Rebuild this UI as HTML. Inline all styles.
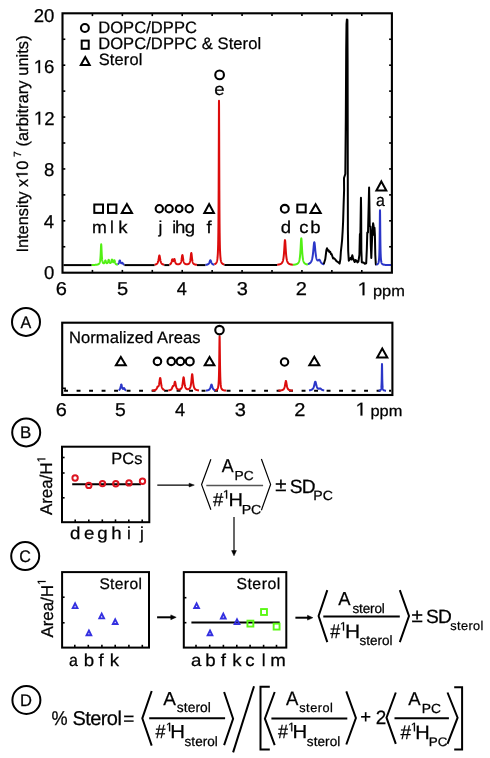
<!DOCTYPE html>
<html><head><meta charset="utf-8"><style>
html,body{margin:0;padding:0;background:#fff;}
svg{display:block;will-change:transform;}
text{font-family:"Liberation Sans",sans-serif;text-rendering:geometricPrecision;stroke-width:0.25px;paint-order:stroke;}
</style></head><body>
<svg width="490" height="758" viewBox="0 0 490 758">
<rect width="490" height="758" fill="#fff"/>
<polyline points="63.50,265.10 91.70,265.10" fill="none" stroke="#000" stroke-width="2.0" stroke-linejoin="round"/>
<polyline points="91.70,265.00 91.80,265.00 91.90,264.99 92.00,264.99 92.10,264.99 92.20,264.99 92.30,264.99 92.40,264.98 92.50,264.98 92.60,264.98 92.70,264.98 92.80,264.97 92.90,264.97 93.00,264.97 93.10,264.97 93.20,264.96 93.30,264.96 93.40,264.96 93.50,264.95 93.60,264.95 93.70,264.95 93.80,264.94 93.90,264.94 94.00,264.94 94.10,264.93 94.20,264.93 94.30,264.92 94.40,264.92 94.50,264.91 94.60,264.91 94.70,264.90 94.80,264.90 94.90,264.89 95.00,264.89 95.10,264.88 95.20,264.87 95.30,264.87 95.40,264.86 95.50,264.85 95.60,264.85 95.70,264.84 95.80,264.83 95.90,264.82 96.00,264.81 96.10,264.80 96.20,264.79 96.30,264.78 96.40,264.77 96.50,264.75 96.60,264.74 96.70,264.73 96.80,264.71 96.90,264.70 97.00,264.68 97.10,264.66 97.20,264.64 97.30,264.62 97.40,264.60 97.50,264.57 97.60,264.55 97.70,264.52 97.80,264.49 97.90,264.46 98.00,264.42 98.10,264.38 98.20,264.34 98.30,264.29 98.40,264.24 98.50,264.18 98.60,264.12 98.70,264.04 98.80,263.96 98.90,263.88 99.00,263.78 99.10,263.66 99.20,263.53 99.30,263.39 99.40,263.22 99.50,263.02 99.60,262.79 99.70,262.52 99.80,262.21 99.90,261.83 100.00,261.38 100.10,260.83 100.20,260.16 100.30,259.34 100.40,258.32 100.50,257.07 100.60,255.52 100.70,253.64 100.80,251.44 100.90,249.03 101.00,246.71 101.10,244.95 101.20,244.29 101.30,244.94 101.40,246.68 101.50,248.98 101.60,251.38 101.70,253.56 101.80,255.42 101.90,256.95 102.00,258.19 102.10,259.19 102.20,259.99 102.30,260.64 102.40,261.17 102.50,261.60 102.60,261.95 102.70,262.24 102.80,262.48 102.90,262.68 103.00,262.84 103.10,262.98 103.20,263.08 103.30,263.17 103.40,263.23 103.50,263.28 103.60,263.31 103.70,263.32 103.80,263.31 103.90,263.29 104.00,263.25 104.10,263.18 104.20,263.09 104.30,262.98 104.40,262.84 104.50,262.67 104.60,262.46 104.70,262.21 104.80,261.92 104.90,261.61 105.00,261.27 105.10,260.94 105.20,260.66 105.30,260.47 105.40,260.40 105.50,260.47 105.60,260.66 105.70,260.94 105.80,261.26 105.90,261.59 106.00,261.91 106.10,262.19 106.20,262.43 106.30,262.64 106.40,262.81 106.50,262.94 106.60,263.04 106.70,263.12 106.80,263.17 106.90,263.20 107.00,263.20 107.10,263.19 107.20,263.15 107.30,263.08 107.40,263.00 107.50,262.88 107.60,262.74 107.70,262.56 107.80,262.35 107.90,262.10 108.00,261.82 108.10,261.49 108.20,261.14 108.30,260.77 108.40,260.43 108.50,260.13 108.60,259.93 108.70,259.86 108.80,259.92 108.90,260.12 109.00,260.40 109.10,260.74 109.20,261.10 109.30,261.45 109.40,261.76 109.50,262.04 109.60,262.28 109.70,262.48 109.80,262.64 109.90,262.77 110.00,262.87 110.10,262.94 110.20,262.99 110.30,263.01 110.40,263.00 110.50,262.97 110.60,262.91 110.70,262.83 110.80,262.71 110.90,262.57 111.00,262.39 111.10,262.16 111.20,261.90 111.30,261.60 111.40,261.25 111.50,260.88 111.60,260.49 111.70,260.12 111.80,259.81 111.90,259.59 112.00,259.51 112.10,259.58 112.20,259.77 112.30,260.07 112.40,260.42 112.50,260.79 112.60,261.14 112.70,261.45 112.80,261.72 112.90,261.94 113.00,262.11 113.10,262.23 113.20,262.31 113.30,262.33 113.40,262.31 113.50,262.23 113.60,262.11 113.70,261.92 113.80,261.69 113.90,261.41 114.00,261.09 114.10,260.77 114.20,260.48 114.30,260.30 114.40,260.26 114.50,260.38 114.60,260.65 114.70,261.02 114.80,261.43 114.90,261.84 115.00,262.22 115.10,262.57 115.20,262.87 115.30,263.12 115.40,263.34 115.50,263.53 115.60,263.69 115.70,263.83 115.80,263.94 115.90,264.05 116.00,264.13 116.10,264.21 116.20,264.28 116.30,264.34 116.40,264.39 116.50,264.44 116.60,264.48 116.70,264.52 116.80,264.55 116.90,264.58 117.00,264.61 117.10,264.64 117.20,264.66 117.30,264.68 117.40,264.70 117.50,264.72 117.60,264.74 117.70,264.75 117.80,264.77" fill="none" stroke="#52f014" stroke-width="2.0" stroke-linejoin="round"/>
<polyline points="117.80,264.29 117.90,264.22 118.00,264.14 118.10,264.06 118.19,263.96 118.29,263.85 118.39,263.73 118.49,263.59 118.59,263.42 118.69,263.24 118.79,263.04 118.88,262.80 118.98,262.54 119.08,262.26 119.18,261.95 119.28,261.62 119.38,261.30 119.47,260.99 119.57,260.74 119.67,260.55 119.77,260.45 119.80,260.44 119.87,260.46 119.97,260.57 120.07,260.77 120.16,261.03 120.26,261.32 120.36,261.62 120.46,261.91 120.56,262.18 120.66,262.43 120.76,262.64 120.85,262.82 120.95,262.97 121.05,263.10 121.15,263.19 121.25,263.26 121.35,263.30 121.44,263.32 121.54,263.31 121.64,263.28 121.74,263.23 121.84,263.16 121.94,263.07 122.04,262.98 122.13,262.90 122.23,262.83 122.33,262.81 122.40,262.82 122.43,262.83 122.53,262.90 122.63,263.02 122.73,263.17 122.82,263.33 122.92,263.49 123.02,263.65 123.12,263.80 123.22,263.93 123.32,264.04 123.41,264.15 123.51,264.24 123.61,264.32 123.71,264.38 123.81,264.45 123.91,264.50 124.01,264.55 124.10,264.59 124.20,264.62 124.30,264.66 124.40,264.69" fill="none" stroke="#2b36c8" stroke-width="2.0" stroke-linejoin="round"/>
<polyline points="124.40,265.10 154.60,265.10" fill="none" stroke="#000" stroke-width="2.0" stroke-linejoin="round"/>
<polyline points="154.60,264.70 154.70,264.68 154.80,264.67 154.90,264.65 155.00,264.63 155.09,264.61 155.19,264.59 155.29,264.56 155.39,264.54 155.49,264.51 155.59,264.48 155.69,264.45 155.79,264.42 155.89,264.38 155.99,264.34 156.08,264.30 156.18,264.25 156.28,264.20 156.38,264.15 156.48,264.09 156.58,264.03 156.68,263.96 156.78,263.88 156.88,263.80 156.98,263.70 157.07,263.60 157.17,263.49 157.27,263.36 157.37,263.22 157.47,263.07 157.57,262.89 157.67,262.70 157.77,262.48 157.87,262.24 157.97,261.96 158.06,261.65 158.16,261.30 158.26,260.92 158.36,260.48 158.46,260.00 158.56,259.48 158.66,258.91 158.76,258.31 158.86,257.69 158.96,257.09 159.05,256.53 159.15,256.05 159.25,255.71 159.35,255.52 159.40,255.50 159.45,255.52 159.55,255.71 159.65,256.06 159.75,256.53 159.85,257.09 159.94,257.70 160.04,258.31 160.14,258.91 160.24,259.48 160.34,260.01 160.44,260.49 160.54,260.92 160.64,261.31 160.74,261.66 160.84,261.96 160.93,262.24 161.03,262.48 161.13,262.70 161.23,262.90 161.33,263.07 161.43,263.22 161.53,263.36 161.63,263.49 161.73,263.60 161.83,263.71 161.92,263.80 162.02,263.88 162.12,263.96 162.22,264.03 162.32,264.09 162.42,264.15 162.52,264.20 162.62,264.25 162.72,264.30 162.82,264.34 162.91,264.38 163.01,264.42 163.11,264.45 163.21,264.48 163.31,264.51 163.41,264.54 163.51,264.56 163.61,264.59 163.71,264.61 163.81,264.63 163.90,264.65 164.00,264.67 164.10,264.68 164.20,264.70 164.30,264.72" fill="none" stroke="#dc0c0c" stroke-width="2.0" stroke-linejoin="round"/>
<polyline points="164.30,265.10 169.40,265.10" fill="none" stroke="#000" stroke-width="2.0" stroke-linejoin="round"/>
<polyline points="169.40,264.55 169.50,264.52 169.60,264.49 169.70,264.45 169.80,264.41 169.90,264.37 170.00,264.32 170.10,264.27 170.20,264.21 170.30,264.14 170.40,264.07 170.50,263.98 170.60,263.89 170.70,263.78 170.80,263.66 170.90,263.52 171.00,263.36 171.10,263.18 171.20,262.97 171.30,262.73 171.40,262.45 171.50,262.13 171.60,261.77 171.70,261.37 171.80,260.95 171.90,260.51 172.00,260.08 172.10,259.72 172.20,259.45 172.30,259.32 172.40,259.33 172.50,259.48 172.60,259.72 172.70,260.01 172.80,260.32 172.90,260.59 173.00,260.83 173.10,261.00 173.20,261.11 173.30,261.16 173.40,261.14 173.50,261.05 173.60,260.90 173.70,260.68 173.80,260.40 173.90,260.08 174.00,259.74 174.10,259.40 174.20,259.12 174.30,258.95 174.40,258.92 174.50,259.05 174.60,259.32 174.70,259.70 174.80,260.15 174.90,260.62 175.00,261.07 175.10,261.49 175.20,261.86 175.30,262.20 175.40,262.49 175.50,262.74 175.60,262.96 175.70,263.15 175.80,263.31 175.90,263.45 176.00,263.57 176.10,263.68 176.20,263.77 176.30,263.85 176.40,263.92 176.50,263.98 176.60,264.03 176.70,264.08 176.80,264.12 176.90,264.16 177.00,264.19 177.10,264.21 177.20,264.24 177.30,264.26 177.40,264.27 177.50,264.28 177.60,264.29 177.70,264.30 177.80,264.31 177.90,264.31 178.00,264.31 178.10,264.31 178.20,264.30 178.30,264.29 178.40,264.28 178.50,264.27 178.60,264.26 178.70,264.24 178.80,264.22 178.90,264.20 179.00,264.17 179.10,264.14 179.20,264.11 179.30,264.07 179.40,264.03 179.50,263.98 179.60,263.93 179.70,263.88 179.80,263.81 179.90,263.74 180.00,263.66 180.10,263.57 180.20,263.47 180.30,263.35 180.40,263.23 180.50,263.08 180.60,262.92 180.70,262.73 180.80,262.52 180.90,262.29 181.00,262.01 181.10,261.70 181.20,261.35 181.30,260.94 181.40,260.48 181.50,259.97 181.60,259.39 181.70,258.75 181.80,258.06 181.90,257.35 182.00,256.65 182.10,256.01 182.20,255.49 182.30,255.14 182.40,255.02 182.50,255.14 182.60,255.48 182.70,256.01 182.80,256.65 182.90,257.35 183.00,258.06 183.10,258.75 183.20,259.38 183.30,259.96 183.40,260.48 183.50,260.94 183.60,261.34 183.70,261.70 183.80,262.01 183.90,262.28 184.00,262.52 184.10,262.73 184.20,262.91 184.30,263.07 184.40,263.22 184.50,263.34 184.60,263.46 184.70,263.56 184.80,263.65 184.90,263.73 185.00,263.80 185.10,263.86 185.20,263.92 185.30,263.97 185.40,264.02 185.50,264.06 185.60,264.10 185.70,264.13 185.80,264.16 185.90,264.19 186.00,264.21 186.10,264.23 186.20,264.24 186.30,264.26 186.40,264.27 186.50,264.28 186.60,264.29 186.70,264.29 186.80,264.30 186.90,264.30 187.00,264.30 187.10,264.29 187.20,264.29 187.30,264.28 187.40,264.27 187.50,264.26 187.60,264.24 187.70,264.22 187.80,264.20 187.90,264.18 188.00,264.15 188.10,264.12 188.20,264.09 188.30,264.05 188.40,264.00 188.50,263.95 188.60,263.90 188.70,263.84 188.80,263.77 188.90,263.69 189.00,263.60 189.10,263.50 189.20,263.38 189.30,263.25 189.40,263.11 189.50,262.94 189.60,262.75 189.70,262.53 189.80,262.27 189.90,261.98 190.00,261.64 190.10,261.25 190.20,260.79 190.30,260.27 190.40,259.66 190.50,258.96 190.60,258.16 190.70,257.28 190.80,256.34 190.90,255.37 191.00,254.45 191.10,253.68 191.20,253.16 191.30,252.98 191.40,253.17 191.50,253.69 191.60,254.47 191.70,255.39 191.80,256.36 191.90,257.31 192.00,258.20 192.10,259.00 192.20,259.70 192.30,260.32 192.40,260.85 192.50,261.31 192.60,261.71 192.70,262.05 192.80,262.35 192.90,262.61 193.00,262.84 193.10,263.03 193.20,263.21 193.30,263.36 193.40,263.50 193.50,263.62 193.60,263.72 193.70,263.82 193.80,263.91 193.90,263.99 194.00,264.06 194.10,264.12 194.20,264.18 194.30,264.23 194.40,264.28 194.50,264.32 194.60,264.37 194.70,264.40 194.80,264.44 194.90,264.47 195.00,264.50 195.10,264.53 195.20,264.55 195.30,264.58 195.40,264.60 195.50,264.62 195.60,264.64 195.70,264.66 195.80,264.67 195.90,264.69 196.00,264.71 196.10,264.72 196.20,264.73 196.30,264.75 196.40,264.76 196.50,264.77 196.60,264.78 196.70,264.79 196.80,264.80 196.90,264.81 197.00,264.82" fill="none" stroke="#dc0c0c" stroke-width="2.0" stroke-linejoin="round"/>
<polyline points="197.00,265.10 205.50,265.10" fill="none" stroke="#000" stroke-width="2.0" stroke-linejoin="round"/>
<polyline points="205.50,264.87 205.60,264.86 205.70,264.85 205.80,264.84 205.90,264.83 205.99,264.82 206.09,264.81 206.19,264.79 206.29,264.78 206.39,264.76 206.49,264.75 206.59,264.73 206.69,264.71 206.79,264.69 206.88,264.67 206.98,264.65 207.08,264.62 207.18,264.60 207.28,264.57 207.38,264.54 207.48,264.50 207.58,264.47 207.68,264.43 207.77,264.38 207.87,264.34 207.97,264.28 208.07,264.22 208.17,264.16 208.27,264.09 208.37,264.01 208.47,263.93 208.57,263.83 208.66,263.72 208.76,263.61 208.86,263.48 208.96,263.33 209.06,263.17 209.16,262.99 209.26,262.79 209.36,262.57 209.46,262.34 209.55,262.08 209.65,261.81 209.75,261.54 209.85,261.26 209.95,260.99 210.05,260.74 210.15,260.54 210.25,260.39 210.35,260.31 210.40,260.30 210.44,260.31 210.54,260.38 210.64,260.52 210.74,260.72 210.84,260.96 210.94,261.23 211.04,261.51 211.14,261.79 211.24,262.06 211.33,262.31 211.43,262.55 211.53,262.77 211.63,262.97 211.73,263.15 211.83,263.31 211.93,263.46 212.03,263.59 212.13,263.71 212.22,263.82 212.32,263.92 212.42,264.00 212.52,264.08 212.62,264.15 212.72,264.22 212.82,264.28 212.92,264.33 213.02,264.38 213.11,264.42 213.21,264.46 213.31,264.50 213.41,264.53 213.51,264.57 213.61,264.60 213.71,264.62 213.81,264.65 213.91,264.67 214.00,264.69 214.10,264.71 214.20,264.73 214.30,264.75 214.40,264.76" fill="none" stroke="#2b36c8" stroke-width="2.0" stroke-linejoin="round"/>
<polyline points="214.40,264.31 214.50,264.27 214.60,264.24 214.70,264.20 214.80,264.15 214.90,264.11 214.99,264.06 215.09,264.01 215.19,263.95 215.29,263.89 215.39,263.82 215.49,263.75 215.59,263.67 215.69,263.58 215.79,263.49 215.89,263.38 215.98,263.27 216.08,263.15 216.18,263.01 216.28,262.86 216.38,262.68 216.48,262.49 216.58,262.28 216.68,262.04 216.78,261.77 216.88,261.46 216.97,261.10 217.07,260.69 217.17,260.21 217.27,259.66 217.37,259.00 217.47,258.22 217.57,257.28 217.67,256.14 217.77,254.74 217.87,253.00 217.96,250.78 218.06,247.93 218.16,244.17 218.26,239.13 218.36,232.21 218.46,222.47 218.56,208.53 218.66,188.55 218.76,161.08 218.86,128.66 218.95,104.06 219.00,100.80 219.05,105.27 219.15,131.21 219.25,163.54 219.35,190.41 219.45,209.84 219.55,223.38 219.65,232.85 219.75,239.60 219.85,244.51 219.94,248.19 220.04,250.98 220.14,253.15 220.24,254.87 220.34,256.24 220.44,257.36 220.54,258.29 220.64,259.06 220.74,259.70 220.84,260.25 220.93,260.72 221.03,261.13 221.13,261.48 221.23,261.79 221.33,262.06 221.43,262.30 221.53,262.51 221.63,262.70 221.73,262.87 221.83,263.02 221.92,263.16 222.02,263.28 222.12,263.39 222.22,263.49 222.32,263.59 222.42,263.67 222.52,263.75 222.62,263.82 222.72,263.89 222.82,263.95 222.91,264.01 223.01,264.06 223.11,264.11 223.21,264.16 223.31,264.20 223.41,264.24 223.51,264.28 223.61,264.31 223.71,264.34 223.81,264.37 223.91,264.40 224.00,264.43 224.10,264.46 224.20,264.48 224.30,264.50 224.40,264.53" fill="none" stroke="#dc0c0c" stroke-width="2.0" stroke-linejoin="round"/>
<polyline points="224.40,265.10 277.10,265.10" fill="none" stroke="#000" stroke-width="2.0" stroke-linejoin="round"/>
<polyline points="277.10,264.74 277.20,264.73 277.30,264.73 277.40,264.72 277.50,264.71 277.60,264.69 277.70,264.68 277.80,264.67 277.90,264.66 278.00,264.65 278.10,264.63 278.20,264.62 278.30,264.61 278.40,264.59 278.50,264.58 278.60,264.56 278.70,264.54 278.80,264.53 278.90,264.51 279.00,264.49 279.10,264.47 279.20,264.45 279.30,264.42 279.40,264.40 279.50,264.38 279.60,264.35 279.70,264.32 279.80,264.29 279.90,264.26 280.00,264.23 280.10,264.19 280.20,264.16 280.30,264.12 280.40,264.08 280.50,264.03 280.60,263.99 280.70,263.94 280.80,263.88 280.90,263.83 281.00,263.77 281.10,263.70 281.20,263.63 281.30,263.55 281.40,263.47 281.50,263.38 281.60,263.29 281.70,263.19 281.80,263.08 281.90,262.95 282.00,262.82 282.10,262.68 282.20,262.52 282.30,262.35 282.40,262.16 282.50,261.95 282.60,261.71 282.70,261.46 282.80,261.17 282.90,260.85 283.00,260.50 283.10,260.10 283.20,259.65 283.30,259.15 283.40,258.58 283.50,257.94 283.60,257.22 283.70,256.40 283.80,255.47 283.90,254.42 284.00,253.24 284.10,251.92 284.20,250.47 284.30,248.90 284.40,247.23 284.50,245.52 284.60,243.86 284.70,242.37 284.80,241.16 284.90,240.37 285.00,240.10 285.10,240.37 285.20,241.16 285.30,242.37 285.40,243.86 285.50,245.52 285.60,247.23 285.70,248.90 285.80,250.47 285.90,251.92 286.00,253.24 286.10,254.42 286.20,255.47 286.30,256.40 286.40,257.22 286.50,257.94 286.60,258.58 286.70,259.15 286.80,259.65 286.90,260.10 287.00,260.50 287.10,260.85 287.20,261.17 287.30,261.46 287.40,261.71 287.50,261.95 287.60,262.16 287.70,262.35 287.80,262.52 287.90,262.68 288.00,262.82 288.10,262.95 288.20,263.08 288.30,263.19 288.40,263.29 288.50,263.38 288.60,263.47 288.70,263.55 288.80,263.63 288.90,263.70 289.00,263.77 289.10,263.83 289.20,263.88 289.30,263.94 289.40,263.99 289.50,264.03 289.60,264.08 289.70,264.12 289.80,264.16 289.90,264.19 290.00,264.23 290.10,264.26 290.20,264.29 290.30,264.32 290.40,264.35 290.50,264.38 290.60,264.40 290.70,264.42 290.80,264.45 290.90,264.47 291.00,264.49 291.10,264.51 291.20,264.53 291.30,264.54 291.40,264.56 291.50,264.58 291.60,264.59 291.70,264.61 291.80,264.62 291.90,264.63 292.00,264.65 292.10,264.66 292.20,264.67 292.30,264.68 292.40,264.69 292.50,264.71 292.60,264.72 292.70,264.73 292.80,264.73 292.90,264.74" fill="none" stroke="#dc0c0c" stroke-width="2.0" stroke-linejoin="round"/>
<polyline points="292.90,264.80 293.00,264.79 293.10,264.78 293.20,264.77 293.30,264.77 293.40,264.76 293.50,264.75 293.60,264.74 293.69,264.73 293.79,264.72 293.89,264.71 293.99,264.70 294.09,264.69 294.19,264.68 294.29,264.67 294.39,264.65 294.49,264.64 294.59,264.63 294.69,264.61 294.79,264.60 294.89,264.58 294.99,264.57 295.09,264.55 295.18,264.53 295.28,264.51 295.38,264.49 295.48,264.47 295.58,264.45 295.68,264.43 295.78,264.41 295.88,264.38 295.98,264.35 296.08,264.33 296.18,264.30 296.28,264.27 296.38,264.23 296.48,264.20 296.58,264.16 296.67,264.12 296.77,264.08 296.87,264.04 296.97,263.99 297.07,263.94 297.17,263.88 297.27,263.83 297.37,263.76 297.47,263.70 297.57,263.63 297.67,263.55 297.77,263.47 297.87,263.38 297.97,263.28 298.07,263.17 298.16,263.06 298.26,262.93 298.36,262.80 298.46,262.65 298.56,262.49 298.66,262.31 298.76,262.11 298.86,261.89 298.96,261.65 299.06,261.38 299.16,261.08 299.26,260.74 299.36,260.37 299.46,259.94 299.56,259.47 299.65,258.93 299.75,258.31 299.85,257.62 299.95,256.83 300.05,255.93 300.15,254.90 300.25,253.74 300.35,252.42 300.45,250.94 300.55,249.30 300.65,247.52 300.75,245.63 300.85,243.72 300.95,241.88 301.05,240.28 301.14,239.07 301.24,238.40 301.30,238.30 301.34,238.36 301.44,238.96 301.54,240.11 301.64,241.68 301.74,243.49 301.84,245.40 301.94,247.30 302.04,249.09 302.14,250.75 302.24,252.25 302.34,253.59 302.44,254.77 302.54,255.81 302.64,256.73 302.73,257.53 302.83,258.24 302.93,258.86 303.03,259.40 303.13,259.89 303.23,260.32 303.33,260.70 303.43,261.04 303.53,261.34 303.63,261.62 303.73,261.86 303.83,262.08 303.93,262.28 304.03,262.47 304.13,262.63 304.22,262.78 304.32,262.92 304.42,263.05 304.52,263.16 304.62,263.27 304.72,263.37 304.82,263.46 304.92,263.54 305.02,263.62 305.12,263.69 305.22,263.76 305.32,263.82 305.42,263.88 305.52,263.93 305.62,263.98 305.71,264.03 305.81,264.08 305.91,264.12 306.01,264.16 306.11,264.19 306.21,264.23 306.31,264.26 306.41,264.29 306.51,264.32 306.61,264.35 306.71,264.38 306.81,264.40 306.91,264.43 307.01,264.45 307.11,264.47 307.20,264.49 307.30,264.51 307.40,264.53 307.50,264.55 307.60,264.56 307.70,264.58 307.80,264.60 307.90,264.61" fill="none" stroke="#52f014" stroke-width="2.0" stroke-linejoin="round"/>
<polyline points="307.90,264.14 308.00,264.11 308.10,264.08 308.20,264.05 308.30,264.02 308.40,263.98 308.50,263.95 308.60,263.91 308.70,263.87 308.79,263.83 308.89,263.78 308.99,263.74 309.09,263.69 309.19,263.64 309.29,263.59 309.39,263.53 309.49,263.47 309.59,263.41 309.69,263.34 309.79,263.27 309.89,263.20 309.99,263.12 310.09,263.03 310.19,262.94 310.29,262.85 310.38,262.75 310.48,262.64 310.58,262.52 310.68,262.40 310.78,262.27 310.88,262.12 310.98,261.97 311.08,261.81 311.18,261.63 311.28,261.44 311.38,261.23 311.48,261.01 311.58,260.76 311.68,260.50 311.78,260.21 311.88,259.90 311.98,259.56 312.07,259.19 312.17,258.79 312.27,258.34 312.37,257.86 312.47,257.33 312.57,256.75 312.67,256.12 312.77,255.43 312.87,254.68 312.97,253.86 313.07,252.98 313.17,252.03 313.27,251.02 313.37,249.96 313.47,248.85 313.57,247.72 313.66,246.60 313.76,245.52 313.86,244.52 313.96,243.64 314.06,242.94 314.16,242.45 314.26,242.21 314.30,242.18 314.36,242.22 314.46,242.50 314.56,243.01 314.66,243.73 314.76,244.62 314.86,245.62 314.96,246.69 315.06,247.79 315.16,248.89 315.25,249.96 315.35,250.98 315.45,251.95 315.55,252.86 315.65,253.69 315.75,254.46 315.85,255.17 315.95,255.81 316.05,256.40 316.15,256.92 316.25,257.40 316.35,257.83 316.45,258.22 316.55,258.57 316.65,258.88 316.75,259.15 316.85,259.40 316.94,259.61 317.04,259.80 317.14,259.97 317.24,260.11 317.34,260.22 317.44,260.32 317.54,260.39 317.64,260.44 317.74,260.48 317.84,260.49 317.94,260.49 318.04,260.47 318.14,260.43 318.24,260.38 318.34,260.31 318.44,260.24 318.53,260.15 318.63,260.06 318.73,259.97 318.83,259.88 318.93,259.80 319.03,259.74 319.13,259.70 319.23,259.68 319.33,259.69 319.40,259.72 319.43,259.74 319.53,259.81 319.63,259.92 319.73,260.06 319.83,260.21 319.93,260.39 320.03,260.58 320.12,260.79 320.22,260.99 320.32,261.19 320.42,261.40 320.52,261.59 320.62,261.78 320.72,261.96 320.82,262.13 320.92,262.29 321.02,262.44 321.12,262.58 321.22,262.71 321.32,262.83 321.42,262.95 321.52,263.05 321.62,263.15 321.72,263.24 321.81,263.33 321.91,263.41 322.01,263.48 322.11,263.55 322.21,263.62 322.31,263.68 322.41,263.74 322.51,263.79 322.61,263.84 322.71,263.89 322.81,263.94 322.91,263.98 323.01,264.02 323.11,264.06 323.21,264.09 323.31,264.12 323.40,264.16 323.50,264.19 323.60,264.22 323.70,264.24 323.80,264.27 323.90,264.29 324.00,264.32 324.10,264.34 324.20,264.36" fill="none" stroke="#2b36c8" stroke-width="2.0" stroke-linejoin="round"/>
<polyline points="323.70,264.20 325.30,259.00 326.40,250.00 327.00,248.30 328.00,250.60 328.60,250.20 329.40,252.00 330.20,251.80 331.00,254.20 331.60,254.00 333.10,258.50 334.20,258.30 335.20,259.40 336.50,261.20 337.60,261.80 339.60,263.60 340.40,259.00 340.90,251.30 341.60,245.00 342.10,240.00 342.60,232.00 343.10,222.00 343.60,205.00 344.10,190.00 344.00,178.00 345.30,174.00 345.80,120.00 346.20,50.00 346.50,24.00 346.90,19.40 347.40,20.00 347.60,60.00 347.70,120.00 347.80,180.00 347.90,230.00 348.20,251.00 348.80,260.80 349.60,259.50 350.70,257.80 351.50,259.50 352.30,255.20 353.00,258.00 353.60,259.80 354.70,262.00 355.60,260.00 356.40,260.50 357.40,262.40 358.40,261.50 359.40,255.00 359.90,234.00 360.40,234.00 360.75,210.00 360.95,197.80 361.15,210.00 361.35,250.00 361.80,262.20 362.40,262.60 363.50,262.60 364.80,263.80 366.20,263.30 366.80,250.00 367.30,232.50 368.00,232.50 368.80,200.00 369.10,187.40 369.35,200.00 369.70,226.00 370.40,226.50 370.80,245.00 371.30,258.00 371.80,245.00 372.50,230.00 373.10,223.30 373.60,226.00 374.10,235.00 374.50,227.80 374.90,235.00 375.30,255.00 375.80,264.20 376.50,265.10" fill="none" stroke="#000" stroke-width="2.0" stroke-linejoin="round"/>
<polyline points="376.30,264.67 376.35,264.66 376.40,264.64 376.45,264.63 376.50,264.62 376.55,264.60 376.60,264.59 376.65,264.57 376.70,264.56 376.75,264.54 376.80,264.52 376.85,264.51 376.90,264.49 376.95,264.47 377.00,264.44 377.05,264.42 377.10,264.40 377.15,264.38 377.20,264.35 377.25,264.32 377.30,264.29 377.35,264.26 377.40,264.23 377.45,264.20 377.50,264.16 377.55,264.12 377.60,264.08 377.65,264.04 377.70,263.99 377.75,263.95 377.80,263.89 377.85,263.84 377.90,263.78 377.95,263.72 378.00,263.65 378.05,263.57 378.10,263.50 378.15,263.41 378.20,263.32 378.25,263.22 378.30,263.11 378.35,262.99 378.40,262.86 378.45,262.72 378.50,262.57 378.55,262.40 378.60,262.22 378.65,262.01 378.70,261.78 378.75,261.53 378.80,261.25 378.85,260.93 378.90,260.58 378.95,260.17 379.00,259.72 379.05,259.20 379.10,258.61 379.15,257.92 379.20,257.13 379.25,256.21 379.30,255.14 379.35,253.87 379.40,252.37 379.45,250.59 379.50,248.47 379.55,245.94 379.60,242.91 379.65,239.31 379.70,235.10 379.75,230.28 379.80,225.02 379.85,219.68 379.90,214.91 379.95,211.53 380.00,210.30 380.05,211.53 380.10,214.91 380.15,219.68 380.20,225.02 380.25,230.28 380.30,235.10 380.35,239.31 380.40,242.91 380.45,245.94 380.50,248.47 380.55,250.59 380.60,252.37 380.65,253.87 380.70,255.14 380.75,256.21 380.80,257.13 380.85,257.92 380.90,258.61 380.95,259.20 381.00,259.72 381.05,260.17 381.10,260.58 381.15,260.93 381.20,261.25 381.25,261.53 381.30,261.78 381.35,262.01 381.40,262.22 381.45,262.40 381.50,262.57 381.55,262.72 381.60,262.86 381.65,262.99 381.70,263.11 381.75,263.22 381.80,263.32 381.85,263.41 381.90,263.50 381.95,263.57 382.00,263.65 382.05,263.72 382.10,263.78 382.15,263.84 382.20,263.89 382.25,263.95 382.30,263.99 382.35,264.04 382.40,264.08 382.45,264.12 382.50,264.16 382.55,264.20 382.60,264.23 382.65,264.26 382.70,264.29 382.75,264.32 382.80,264.35 382.85,264.38 382.90,264.40 382.95,264.42 383.00,264.44 383.05,264.47 383.10,264.49 383.15,264.51 383.20,264.52 383.25,264.54 383.30,264.56 383.35,264.57 383.40,264.59 383.45,264.60 383.50,264.62 383.55,264.63 383.60,264.64 383.65,264.66 383.70,264.67 383.75,264.68 383.80,264.69 383.85,264.70 383.90,264.71 383.95,264.72 384.00,264.73 384.05,264.74 384.10,264.75 384.15,264.76 384.20,264.76 384.25,264.77 384.30,264.78 384.35,264.79 384.40,264.79 384.45,264.80 384.50,264.81 384.55,264.81 384.60,264.82 384.65,264.83 384.70,264.83 384.75,264.84 384.80,264.84 384.85,264.85 384.90,264.85 384.95,264.86 385.00,264.86 385.05,264.87 385.10,264.87 385.15,264.88 385.20,264.88 385.25,264.88 385.30,264.89 385.35,264.89 385.40,264.90 385.45,264.90 385.50,264.90 385.55,264.91 385.60,264.91 385.65,264.91 385.70,264.92 385.75,264.92 385.80,264.92 385.85,264.93 385.90,264.93 385.95,264.93 386.00,264.93 386.05,264.94 386.10,264.94 386.15,264.94 386.20,264.95 386.25,264.95 386.30,264.95 386.35,264.95 386.40,264.95 386.45,264.96 386.50,264.96 386.55,264.96 386.60,264.96 386.65,264.97 386.70,264.97 386.75,264.97 386.80,264.97 386.85,264.97 386.90,264.97 386.95,264.98 387.00,264.98 387.05,264.98 387.10,264.98 387.15,264.98 387.20,264.99 387.25,264.99 387.30,264.99 387.35,264.99 387.40,264.99 387.45,264.99 387.50,264.99 387.55,265.00 387.60,265.00 387.65,265.00 387.70,265.00 387.75,265.00 387.80,265.00 387.85,265.00 387.90,265.00 387.95,265.01 388.00,265.01 388.05,265.01 388.10,265.01 388.15,265.01 388.20,265.01 388.25,265.01 388.30,265.01 388.35,265.01 388.40,265.02 388.45,265.02 388.50,265.02 388.55,265.02 388.60,265.02 388.65,265.02 388.70,265.02 388.75,265.02 388.80,265.02 388.85,265.02 388.90,265.02 388.95,265.03 389.00,265.03 389.05,265.03 389.10,265.03 389.15,265.03 389.20,265.03 389.25,265.03 389.30,265.03 389.35,265.03 389.40,265.03 389.45,265.03 389.50,265.03 389.55,265.03 389.60,265.04 389.65,265.04 389.70,265.04 389.75,265.04 389.80,265.04 389.85,265.04 389.90,265.04 389.95,265.04 390.00,265.04 390.05,265.04 390.10,265.04 390.15,265.04 390.20,265.04 390.25,265.04 390.30,265.04 390.35,265.04 390.40,265.04 390.45,265.05 390.50,265.05 390.55,265.05 390.60,265.05 390.65,265.05 390.70,265.05 390.75,265.05 390.80,265.05 390.85,265.05 390.90,265.05 390.95,265.05 391.00,265.05" fill="none" stroke="#2b36c8" stroke-width="2.0" stroke-linejoin="round"/>
<rect x="62.50" y="13.30" width="329.40" height="259.40" fill="none" stroke="#000" stroke-width="2.1"/>
<line x1="92.43" y1="13.30" x2="92.43" y2="16.10" stroke="#000" stroke-width="1.6" stroke-linecap="butt"/>
<line x1="92.43" y1="272.70" x2="92.43" y2="269.90" stroke="#000" stroke-width="1.6" stroke-linecap="butt"/>
<line x1="122.36" y1="13.30" x2="122.36" y2="16.10" stroke="#000" stroke-width="1.6" stroke-linecap="butt"/>
<line x1="122.36" y1="272.70" x2="122.36" y2="269.90" stroke="#000" stroke-width="1.6" stroke-linecap="butt"/>
<line x1="152.29" y1="13.30" x2="152.29" y2="16.10" stroke="#000" stroke-width="1.6" stroke-linecap="butt"/>
<line x1="152.29" y1="272.70" x2="152.29" y2="269.90" stroke="#000" stroke-width="1.6" stroke-linecap="butt"/>
<line x1="182.22" y1="13.30" x2="182.22" y2="16.10" stroke="#000" stroke-width="1.6" stroke-linecap="butt"/>
<line x1="182.22" y1="272.70" x2="182.22" y2="269.90" stroke="#000" stroke-width="1.6" stroke-linecap="butt"/>
<line x1="212.15" y1="13.30" x2="212.15" y2="16.10" stroke="#000" stroke-width="1.6" stroke-linecap="butt"/>
<line x1="212.15" y1="272.70" x2="212.15" y2="269.90" stroke="#000" stroke-width="1.6" stroke-linecap="butt"/>
<line x1="242.08" y1="13.30" x2="242.08" y2="16.10" stroke="#000" stroke-width="1.6" stroke-linecap="butt"/>
<line x1="242.08" y1="272.70" x2="242.08" y2="269.90" stroke="#000" stroke-width="1.6" stroke-linecap="butt"/>
<line x1="272.01" y1="13.30" x2="272.01" y2="16.10" stroke="#000" stroke-width="1.6" stroke-linecap="butt"/>
<line x1="272.01" y1="272.70" x2="272.01" y2="269.90" stroke="#000" stroke-width="1.6" stroke-linecap="butt"/>
<line x1="301.94" y1="13.30" x2="301.94" y2="16.10" stroke="#000" stroke-width="1.6" stroke-linecap="butt"/>
<line x1="301.94" y1="272.70" x2="301.94" y2="269.90" stroke="#000" stroke-width="1.6" stroke-linecap="butt"/>
<line x1="331.87" y1="13.30" x2="331.87" y2="16.10" stroke="#000" stroke-width="1.6" stroke-linecap="butt"/>
<line x1="331.87" y1="272.70" x2="331.87" y2="269.90" stroke="#000" stroke-width="1.6" stroke-linecap="butt"/>
<line x1="361.80" y1="13.30" x2="361.80" y2="16.10" stroke="#000" stroke-width="1.6" stroke-linecap="butt"/>
<line x1="361.80" y1="272.70" x2="361.80" y2="269.90" stroke="#000" stroke-width="1.6" stroke-linecap="butt"/>
<line x1="62.50" y1="246.76" x2="65.30" y2="246.76" stroke="#000" stroke-width="1.6" stroke-linecap="butt"/>
<line x1="391.90" y1="246.76" x2="389.10" y2="246.76" stroke="#000" stroke-width="1.6" stroke-linecap="butt"/>
<line x1="62.50" y1="220.82" x2="65.30" y2="220.82" stroke="#000" stroke-width="1.6" stroke-linecap="butt"/>
<line x1="391.90" y1="220.82" x2="389.10" y2="220.82" stroke="#000" stroke-width="1.6" stroke-linecap="butt"/>
<line x1="62.50" y1="194.88" x2="65.30" y2="194.88" stroke="#000" stroke-width="1.6" stroke-linecap="butt"/>
<line x1="391.90" y1="194.88" x2="389.10" y2="194.88" stroke="#000" stroke-width="1.6" stroke-linecap="butt"/>
<line x1="62.50" y1="168.94" x2="65.30" y2="168.94" stroke="#000" stroke-width="1.6" stroke-linecap="butt"/>
<line x1="391.90" y1="168.94" x2="389.10" y2="168.94" stroke="#000" stroke-width="1.6" stroke-linecap="butt"/>
<line x1="62.50" y1="143.00" x2="65.30" y2="143.00" stroke="#000" stroke-width="1.6" stroke-linecap="butt"/>
<line x1="391.90" y1="143.00" x2="389.10" y2="143.00" stroke="#000" stroke-width="1.6" stroke-linecap="butt"/>
<line x1="62.50" y1="117.06" x2="65.30" y2="117.06" stroke="#000" stroke-width="1.6" stroke-linecap="butt"/>
<line x1="391.90" y1="117.06" x2="389.10" y2="117.06" stroke="#000" stroke-width="1.6" stroke-linecap="butt"/>
<line x1="62.50" y1="91.12" x2="65.30" y2="91.12" stroke="#000" stroke-width="1.6" stroke-linecap="butt"/>
<line x1="391.90" y1="91.12" x2="389.10" y2="91.12" stroke="#000" stroke-width="1.6" stroke-linecap="butt"/>
<line x1="62.50" y1="65.18" x2="65.30" y2="65.18" stroke="#000" stroke-width="1.6" stroke-linecap="butt"/>
<line x1="391.90" y1="65.18" x2="389.10" y2="65.18" stroke="#000" stroke-width="1.6" stroke-linecap="butt"/>
<line x1="62.50" y1="39.24" x2="65.30" y2="39.24" stroke="#000" stroke-width="1.6" stroke-linecap="butt"/>
<line x1="391.90" y1="39.24" x2="389.10" y2="39.24" stroke="#000" stroke-width="1.6" stroke-linecap="butt"/>
<text x="33.64" y="21.55" font-size="18.60" letter-spacing="0.000" fill="#000" stroke="#000" >20</text>
<text x="33.73" y="73.05" font-size="18.60" letter-spacing="0.000" fill="#000" stroke="#000" > 6</text>
<path transform="translate(33.73,73.05) scale(0.00908,-0.00908)" d="M515 0L515 1237L197 1010L197 1180L530 1409L696 1409L696 0Z" fill="#000" stroke="#000" stroke-width="27.5"/>
<text x="33.85" y="124.55" font-size="18.60" letter-spacing="0.000" fill="#000" stroke="#000" > 2</text>
<path transform="translate(33.85,124.55) scale(0.00908,-0.00908)" d="M515 0L515 1237L197 1010L197 1180L530 1409L696 1409L696 0Z" fill="#000" stroke="#000" stroke-width="27.5"/>
<text x="44.06" y="176.05" font-size="18.60" letter-spacing="0.000" fill="#000" stroke="#000" >8</text>
<text x="43.80" y="227.55" font-size="18.60" letter-spacing="0.000" fill="#000" stroke="#000" >4</text>
<text x="43.98" y="279.05" font-size="18.60" letter-spacing="0.000" fill="#000" stroke="#000" >0</text>
<text transform="translate(55.75,295.20) scale(1.0800,1)" font-size="18.60" letter-spacing="0.000" fill="#000" stroke="#000" >6</text>
<text transform="translate(117.03,295.20) scale(1.0800,1)" font-size="18.60" letter-spacing="0.000" fill="#000" stroke="#000" >5</text>
<text transform="translate(176.68,295.20) scale(0.9816,1)" font-size="18.60" letter-spacing="0.000" fill="#000" stroke="#000" >4</text>
<text transform="translate(236.64,295.20) scale(1.0773,1)" font-size="18.60" letter-spacing="0.000" fill="#000" stroke="#000" >3</text>
<text transform="translate(295.81,295.20) scale(1.0800,1)" font-size="18.60" letter-spacing="0.000" fill="#000" stroke="#000" >2</text>
<text transform="translate(357.57,295.20) scale(1.0800,1)" font-size="18.60" letter-spacing="0.000" fill="#000" stroke="#000" > </text>
<path transform="translate(357.57,295.20) scale(0.00981,-0.00908)" d="M515 0L515 1237L197 1010L197 1180L530 1409L696 1409L696 0Z" fill="#000" stroke="#000" stroke-width="27.5"/>
<text transform="translate(372.89,295.60) scale(1.0800,1)" font-size="15.20" letter-spacing="0.000" fill="#000" stroke="#000" >ppm</text>
<g transform="translate(27.6,252.6) rotate(-90)">
<text x="0" y="0" stroke="#000" font-size="16.4" letter-spacing="0">Intensity x 0<tspan font-size="10.4" dy="-6.6" dx="3.6">7</tspan><tspan dy="6.6" dx="0" letter-spacing="0.06"> (arbitrary units)</tspan></text>
<path transform="translate(73.83,0.00) scale(0.00801,-0.00801)" d="M515 0L515 1237L197 1010L197 1180L530 1409L696 1409L696 0Z" fill="#000" stroke="#000" stroke-width="31.2"/>
</g>
<circle cx="84.90" cy="28.00" r="3.95" fill="none" stroke="#000" stroke-width="2.1"/>
<rect x="81.70" y="40.60" width="7.00" height="8.20" fill="none" stroke="#000" stroke-width="2"/>
<polygon points="85.25,57.10 89.70,65.10 80.80,65.10" fill="none" stroke="#000" stroke-width="2" stroke-linejoin="miter"/>
<text x="98.14" y="32.60" font-size="16.55" letter-spacing="0.076" fill="#000" stroke="#000" >DOPC/DPPC</text>
<text x="98.14" y="49.20" font-size="16.55" letter-spacing="0.078" fill="#000" stroke="#000" >DOPC/DPPC &amp; Sterol</text>
<text x="98.76" y="65.20" font-size="16.40" letter-spacing="0.159" fill="#000" stroke="#000" >Sterol</text>
<rect x="94.30" y="204.50" width="8.70" height="8.40" fill="none" stroke="#000" stroke-width="2"/>
<rect x="108.00" y="204.50" width="8.40" height="8.40" fill="none" stroke="#000" stroke-width="2"/>
<polygon points="126.90,204.10 132.00,212.90 121.80,212.90" fill="none" stroke="#000" stroke-width="2" stroke-linejoin="miter"/>
<circle cx="159.30" cy="208.70" r="3.65" fill="none" stroke="#000" stroke-width="2.1"/>
<circle cx="169.10" cy="208.70" r="3.65" fill="none" stroke="#000" stroke-width="2.1"/>
<circle cx="179.15" cy="208.70" r="3.40" fill="none" stroke="#000" stroke-width="2.1"/>
<circle cx="189.20" cy="208.70" r="3.65" fill="none" stroke="#000" stroke-width="2.1"/>
<polygon points="209.10,204.10 213.90,212.90 204.30,212.90" fill="none" stroke="#000" stroke-width="2" stroke-linejoin="miter"/>
<circle cx="284.80" cy="208.80" r="3.95" fill="none" stroke="#000" stroke-width="2.1"/>
<rect x="297.30" y="204.60" width="8.40" height="7.80" fill="none" stroke="#000" stroke-width="2"/>
<polygon points="315.60,204.20 320.70,213.00 310.50,213.00" fill="none" stroke="#000" stroke-width="2" stroke-linejoin="miter"/>
<circle cx="219.60" cy="74.90" r="4.35" fill="none" stroke="#000" stroke-width="2.1"/>
<polygon points="381.35,181.40 386.30,190.40 376.40,190.40" fill="none" stroke="#000" stroke-width="2" stroke-linejoin="miter"/>
<text transform="translate(92.12,232.90) scale(1.0372,1)" font-size="17.20" letter-spacing="0.000" fill="#000" stroke="#000" >m</text>
<text x="110.04" y="232.90" font-size="17.20" letter-spacing="0.000" fill="#000" stroke="#000" >l</text>
<text transform="translate(118.37,232.90) scale(1.0800,1)" font-size="17.20" letter-spacing="0.000" fill="#000" stroke="#000" >k</text>
<text x="158.53" y="232.90" font-size="17.20" letter-spacing="0.000" fill="#000" stroke="#000" >j</text>
<text x="172.19" y="232.90" font-size="17.20" letter-spacing="0.000" fill="#000" stroke="#000" >i</text>
<text transform="translate(174.89,232.90) scale(1.0800,1)" font-size="17.20" letter-spacing="0.000" fill="#000" stroke="#000" >h</text>
<text transform="translate(184.79,232.90) scale(1.0800,1)" font-size="17.20" letter-spacing="0.000" fill="#000" stroke="#000" >g</text>
<text transform="translate(206.62,232.90) scale(1.0800,1)" font-size="17.20" letter-spacing="0.000" fill="#000" stroke="#000" >f</text>
<text transform="translate(280.79,232.90) scale(1.0800,1)" font-size="17.20" letter-spacing="0.000" fill="#000" stroke="#000" >d</text>
<text transform="translate(299.21,232.90) scale(1.0788,1)" font-size="17.20" letter-spacing="0.000" fill="#000" stroke="#000" >c</text>
<text transform="translate(310.23,232.90) scale(1.0800,1)" font-size="17.20" letter-spacing="0.000" fill="#000" stroke="#000" >b</text>
<text transform="translate(214.35,94.90) scale(1.0800,1)" font-size="17.20" letter-spacing="0.000" fill="#000" stroke="#000" >e</text>
<text transform="translate(376.02,206.00) scale(0.9281,1)" font-size="17.20" letter-spacing="0.000" fill="#000" stroke="#000" >a</text>
<line x1="64.1" y1="390.8" x2="391" y2="390.8" stroke="#000" stroke-width="2" stroke-dasharray="3.9 8.6"/>
<polyline points="63,388.2 65.2,388.2 65.2,390.8" fill="none" stroke="#000" stroke-width="1.4"/>
<polyline points="118.60,390.21 118.65,390.19 118.70,390.17 118.75,390.14 118.80,390.12 118.85,390.10 118.90,390.07 118.95,390.04 119.00,390.02 119.05,389.99 119.10,389.95 119.15,389.92 119.20,389.89 119.25,389.85 119.30,389.81 119.35,389.77 119.39,389.72 119.44,389.68 119.49,389.63 119.54,389.57 119.59,389.52 119.64,389.46 119.69,389.39 119.74,389.32 119.79,389.25 119.84,389.17 119.89,389.09 119.94,389.00 119.99,388.90 120.04,388.80 120.09,388.69 120.14,388.57 120.19,388.44 120.24,388.31 120.29,388.16 120.34,388.01 120.39,387.84 120.44,387.67 120.49,387.48 120.54,387.28 120.59,387.08 120.64,386.86 120.69,386.64 120.74,386.40 120.79,386.17 120.84,385.93 120.89,385.69 120.93,385.46 120.98,385.25 121.03,385.04 121.08,384.86 121.13,384.71 121.18,384.60 121.23,384.51 121.28,384.47 121.30,384.47 121.33,384.48 121.38,384.52 121.43,384.60 121.48,384.72 121.53,384.87 121.58,385.05 121.63,385.25 121.68,385.46 121.73,385.68 121.78,385.91 121.83,386.14 121.88,386.36 121.93,386.58 121.98,386.79 122.03,387.00 122.08,387.19 122.13,387.37 122.18,387.54 122.23,387.70 122.28,387.84 122.33,387.98 122.38,388.10 122.42,388.22 122.47,388.32 122.52,388.42 122.57,388.51 122.62,388.59 122.67,388.66 122.72,388.72 122.77,388.77 122.82,388.82 122.87,388.86 122.92,388.89 122.97,388.91 123.02,388.93 123.07,388.94 123.12,388.95 123.17,388.94 123.22,388.93 123.27,388.91 123.32,388.89 123.37,388.85 123.42,388.81 123.47,388.76 123.52,388.71 123.57,388.64 123.62,388.57 123.67,388.50 123.72,388.43 123.77,388.35 123.82,388.28 123.87,388.21 123.92,388.15 123.96,388.11 124.01,388.08 124.06,388.07 124.10,388.08 124.11,388.08 124.16,388.12 124.21,388.17 124.26,388.24 124.31,388.33 124.36,388.43 124.41,388.53 124.46,388.65 124.51,388.76 124.56,388.87 124.61,388.98 124.66,389.09 124.71,389.19 124.76,389.28 124.81,389.37 124.86,389.45 124.91,389.53 124.96,389.60 125.01,389.67 125.06,389.73 125.11,389.79 125.16,389.84 125.21,389.89 125.26,389.94 125.31,389.98 125.36,390.02 125.41,390.05 125.45,390.09 125.50,390.12 125.55,390.15 125.60,390.18 125.65,390.20 125.70,390.23 125.75,390.25 125.80,390.27 125.85,390.29 125.90,390.31 125.95,390.32 126.00,390.34 126.05,390.36 126.10,390.37 126.15,390.39 126.20,390.40" fill="none" stroke="#2b36c8" stroke-width="2.0" stroke-linejoin="round"/>
<polyline points="152.00,390.54 152.05,390.53 152.10,390.53 152.15,390.53 152.20,390.52 152.25,390.52 152.30,390.51 152.35,390.51 152.40,390.51 152.45,390.50 152.50,390.50 152.55,390.49 152.60,390.49 152.65,390.48 152.70,390.48 152.75,390.47 152.80,390.47 152.85,390.46 152.90,390.46 152.95,390.45 153.00,390.45 153.05,390.44 153.10,390.44 153.15,390.43 153.20,390.43 153.25,390.42 153.30,390.41 153.35,390.41 153.40,390.40 153.45,390.39 153.50,390.39 153.55,390.38 153.60,390.37 153.65,390.37 153.70,390.36 153.75,390.35 153.80,390.34 153.85,390.33 153.90,390.33 153.95,390.32 154.00,390.31 154.05,390.30 154.10,390.29 154.15,390.28 154.20,390.27 154.25,390.26 154.30,390.25 154.35,390.24 154.40,390.22 154.45,390.21 154.50,390.20 154.55,390.19 154.60,390.17 154.65,390.16 154.70,390.15 154.75,390.13 154.80,390.12 154.85,390.10 154.90,390.08 154.95,390.07 155.00,390.05 155.05,390.03 155.10,390.01 155.15,389.99 155.20,389.97 155.25,389.95 155.30,389.93 155.35,389.90 155.40,389.88 155.45,389.86 155.50,389.83 155.55,389.80 155.60,389.77 155.65,389.74 155.70,389.71 155.75,389.68 155.80,389.64 155.85,389.60 155.90,389.57 155.95,389.52 156.00,389.48 156.05,389.44 156.10,389.39 156.15,389.34 156.20,389.29 156.25,389.23 156.30,389.17 156.35,389.11 156.40,389.04 156.45,388.97 156.50,388.90 156.55,388.82 156.60,388.74 156.65,388.65 156.70,388.56 156.75,388.46 156.80,388.36 156.85,388.26 156.90,388.15 156.95,388.03 157.00,387.91 157.05,387.79 157.10,387.67 157.15,387.54 157.20,387.42 157.25,387.30 157.30,387.18 157.35,387.07 157.40,386.96 157.45,386.86 157.50,386.77 157.55,386.70 157.60,386.63 157.65,386.58 157.70,386.54 157.75,386.51 157.80,386.49 157.85,386.48 157.90,386.47 157.95,386.46 158.00,386.46 158.05,386.45 158.10,386.45 158.15,386.43 158.20,386.42 158.25,386.39 158.30,386.36 158.35,386.31 158.40,386.26 158.45,386.20 158.50,386.12 158.55,386.03 158.60,385.93 158.65,385.82 158.70,385.69 158.75,385.55 158.80,385.40 158.85,385.23 158.90,385.05 158.95,384.85 159.00,384.63 159.05,384.40 159.10,384.16 159.15,383.89 159.20,383.62 159.25,383.32 159.30,383.01 159.35,382.69 159.40,382.35 159.45,382.00 159.50,381.64 159.55,381.27 159.60,380.90 159.65,380.52 159.70,380.16 159.75,379.80 159.80,379.45 159.85,379.13 159.90,378.83 159.95,378.57 160.00,378.35 160.05,378.17 160.10,378.04 160.15,377.96 160.20,377.94 160.25,377.98 160.30,378.07 160.35,378.22 160.40,378.42 160.45,378.66 160.50,378.94 160.55,379.26 160.60,379.60 160.65,379.96 160.70,380.34 160.75,380.73 160.80,381.13 160.85,381.52 160.90,381.91 160.95,382.30 161.00,382.67 161.05,383.04 161.10,383.39 161.15,383.73 161.20,384.05 161.25,384.36 161.30,384.66 161.35,384.94 161.40,385.21 161.45,385.46 161.50,385.70 161.55,385.93 161.60,386.15 161.65,386.35 161.70,386.55 161.75,386.73 161.80,386.90 161.85,387.07 161.90,387.22 161.95,387.37 162.00,387.50 162.05,387.64 162.10,387.76 162.15,387.88 162.20,387.99 162.25,388.09 162.30,388.20 162.35,388.29 162.40,388.38 162.45,388.47 162.50,388.55 162.55,388.63 162.60,388.70 162.65,388.77 162.70,388.84 162.75,388.90 162.80,388.96 162.85,389.02 162.90,389.08 162.95,389.13 163.00,389.18 163.05,389.23 163.10,389.28 163.15,389.32 163.20,389.36 163.25,389.41 163.30,389.44 163.35,389.48 163.40,389.52 163.45,389.55 163.50,389.59 163.55,389.62 163.60,389.65 163.65,389.68 163.70,389.71 163.75,389.74 163.80,389.76 163.85,389.79 163.90,389.81 163.95,389.84 164.00,389.86 164.05,389.88 164.10,389.90 164.15,389.92 164.20,389.94 164.25,389.96 164.30,389.98 164.35,390.00 164.40,390.02 164.45,390.03 164.50,390.05 164.55,390.07 164.60,390.08" fill="none" stroke="#dc0c0c" stroke-width="2.0" stroke-linejoin="round"/>
<polyline points="168.20,390.43 168.25,390.43 168.30,390.42 168.35,390.42 168.40,390.41 168.45,390.41 168.50,390.40 168.55,390.40 168.60,390.39 168.65,390.38 168.70,390.38 168.75,390.37 168.80,390.36 168.85,390.36 168.90,390.35 168.95,390.34 169.00,390.33 169.05,390.32 169.10,390.32 169.15,390.31 169.20,390.30 169.25,390.29 169.30,390.28 169.35,390.27 169.40,390.26 169.45,390.25 169.50,390.24 169.55,390.23 169.60,390.22 169.65,390.21 169.70,390.19 169.75,390.18 169.80,390.17 169.85,390.16 169.90,390.14 169.95,390.13 170.00,390.11 170.05,390.10 170.10,390.08 170.15,390.07 170.20,390.05 170.25,390.03 170.30,390.01 170.35,389.99 170.40,389.97 170.45,389.95 170.50,389.93 170.55,389.91 170.60,389.88 170.65,389.86 170.70,389.83 170.75,389.80 170.80,389.77 170.85,389.74 170.90,389.71 170.95,389.68 171.00,389.64 171.05,389.61 171.10,389.57 171.15,389.53 171.20,389.48 171.25,389.44 171.29,389.39 171.34,389.34 171.39,389.29 171.44,389.23 171.49,389.17 171.54,389.11 171.59,389.04 171.64,388.97 171.69,388.89 171.74,388.81 171.79,388.73 171.84,388.64 171.89,388.55 171.94,388.45 171.99,388.34 172.04,388.23 172.09,388.11 172.14,387.99 172.19,387.86 172.24,387.73 172.29,387.59 172.34,387.45 172.39,387.30 172.44,387.16 172.49,387.01 172.54,386.87 172.59,386.73 172.64,386.60 172.69,386.47 172.74,386.36 172.79,386.26 172.84,386.17 172.89,386.10 172.90,386.09 172.94,386.05 172.99,386.01 173.04,385.98 173.09,385.96 173.14,385.96 173.19,385.96 173.24,385.96 173.29,385.97 173.34,385.98 173.39,385.98 173.44,385.98 173.49,385.97 173.54,385.95 173.59,385.93 173.64,385.89 173.69,385.84 173.74,385.77 173.79,385.69 173.84,385.60 173.89,385.49 173.94,385.37 173.99,385.24 174.04,385.09 174.09,384.92 174.14,384.74 174.19,384.55 174.24,384.35 174.29,384.13 174.34,383.91 174.39,383.68 174.44,383.44 174.49,383.20 174.54,382.97 174.59,382.74 174.64,382.52 174.69,382.32 174.74,382.14 174.79,381.99 174.84,381.86 174.89,381.77 174.94,381.72 174.99,381.71 175.00,381.71 175.04,381.73 175.09,381.80 175.14,381.91 175.19,382.05 175.24,382.23 175.29,382.43 175.34,382.66 175.39,382.91 175.44,383.17 175.49,383.44 175.54,383.72 175.59,384.00 175.64,384.28 175.69,384.55 175.74,384.82 175.79,385.08 175.84,385.34 175.89,385.58 175.94,385.81 175.99,386.03 176.04,386.24 176.09,386.44 176.14,386.63 176.19,386.81 176.24,386.98 176.29,387.14 176.34,387.29 176.39,387.43 176.44,387.56 176.49,387.69 176.54,387.81 176.59,387.92 176.64,388.02 176.69,388.12 176.74,388.21 176.79,388.30 176.84,388.38 176.89,388.46 176.94,388.53 176.99,388.60 177.04,388.67 177.09,388.73 177.14,388.79 177.19,388.84 177.24,388.89 177.29,388.94 177.34,388.98 177.39,389.03 177.44,389.07 177.48,389.11 177.53,389.14 177.58,389.18 177.63,389.21 177.68,389.24 177.73,389.27 177.78,389.29 177.83,389.32 177.88,389.34 177.93,389.36 177.98,389.38 178.03,389.40 178.08,389.42 178.13,389.44 178.18,389.45 178.23,389.47 178.28,389.48 178.33,389.49 178.38,389.50 178.43,389.51 178.48,389.52 178.53,389.53 178.58,389.54 178.63,389.54 178.68,389.55 178.73,389.55 178.78,389.56 178.83,389.56 178.88,389.56 178.93,389.56 178.98,389.56 179.03,389.56 179.08,389.56 179.13,389.56 179.18,389.56 179.23,389.55 179.28,389.55 179.33,389.54 179.38,389.54 179.43,389.53 179.48,389.52 179.53,389.51 179.58,389.50 179.63,389.49 179.68,389.48 179.73,389.47 179.78,389.46 179.83,389.44 179.88,389.43 179.93,389.41 179.98,389.39 180.03,389.37 180.08,389.35 180.13,389.33 180.18,389.31 180.23,389.29 180.28,389.26 180.33,389.24 180.38,389.21 180.43,389.18 180.48,389.15 180.53,389.12 180.58,389.08 180.63,389.05 180.68,389.01 180.73,388.97 180.78,388.93 180.83,388.89 180.88,388.84 180.93,388.79 180.98,388.74 181.03,388.69 181.08,388.63 181.13,388.57 181.18,388.51 181.23,388.44 181.28,388.37 181.33,388.29 181.38,388.22 181.43,388.13 181.48,388.04 181.53,387.95 181.58,387.85 181.63,387.75 181.68,387.64 181.73,387.52 181.78,387.40 181.83,387.27 181.88,387.13 181.93,386.98 181.98,386.83 182.03,386.66 182.08,386.49 182.13,386.30 182.18,386.10 182.23,385.89 182.28,385.67 182.33,385.43 182.38,385.18 182.43,384.92 182.48,384.63 182.53,384.34 182.58,384.02 182.63,383.69 182.68,383.35 182.73,382.99 182.78,382.61 182.83,382.22 182.88,381.81 182.93,381.40 182.98,380.97 183.03,380.55 183.08,380.12 183.13,379.70 183.18,379.29 183.23,378.90 183.28,378.53 183.33,378.20 183.38,377.91 183.43,377.66 183.48,377.47 183.53,377.34 183.57,377.28 183.60,377.27 183.62,377.28 183.67,377.34 183.72,377.47 183.77,377.66 183.82,377.90 183.87,378.19 183.92,378.52 183.97,378.88 184.02,379.27 184.07,379.68 184.12,380.10 184.17,380.53 184.22,380.95 184.27,381.38 184.32,381.79 184.37,382.19 184.42,382.58 184.47,382.96 184.52,383.32 184.57,383.66 184.62,383.99 184.67,384.30 184.72,384.60 184.77,384.88 184.82,385.14 184.87,385.39 184.92,385.62 184.97,385.85 185.02,386.05 185.07,386.25 185.12,386.43 185.17,386.61 185.22,386.77 185.27,386.93 185.32,387.07 185.37,387.21 185.42,387.34 185.47,387.46 185.52,387.57 185.57,387.68 185.62,387.78 185.67,387.88 185.72,387.97 185.77,388.05 185.82,388.13 185.87,388.21 185.92,388.28 185.97,388.35 186.02,388.41 186.07,388.48 186.12,388.53 186.17,388.59 186.22,388.64 186.27,388.69 186.32,388.73 186.37,388.78 186.42,388.82 186.47,388.86 186.52,388.89 186.57,388.93 186.62,388.96 186.67,388.99 186.72,389.02 186.77,389.05 186.82,389.07 186.87,389.09 186.92,389.12 186.97,389.14 187.02,389.16 187.07,389.17 187.12,389.19 187.17,389.21 187.22,389.22 187.27,389.23 187.32,389.24 187.37,389.26 187.42,389.26 187.47,389.27 187.52,389.28 187.57,389.29 187.62,389.29 187.67,389.29 187.72,389.30 187.77,389.30 187.82,389.30 187.87,389.30 187.92,389.30 187.97,389.30 188.02,389.29 188.07,389.29 188.12,389.28 188.17,389.28 188.22,389.27 188.27,389.26 188.32,389.25 188.37,389.24 188.42,389.23 188.47,389.21 188.52,389.20 188.57,389.18 188.62,389.16 188.67,389.14 188.72,389.12 188.77,389.10 188.82,389.08 188.87,389.06 188.92,389.03 188.97,389.00 189.02,388.97 189.07,388.94 189.12,388.91 189.17,388.87 189.22,388.83 189.27,388.80 189.32,388.75 189.37,388.71 189.42,388.66 189.47,388.61 189.52,388.56 189.57,388.50 189.62,388.45 189.67,388.38 189.72,388.32 189.76,388.25 189.81,388.17 189.86,388.10 189.91,388.01 189.96,387.93 190.01,387.83 190.06,387.74 190.11,387.63 190.16,387.52 190.21,387.41 190.26,387.28 190.31,387.15 190.36,387.01 190.41,386.86 190.46,386.70 190.51,386.54 190.56,386.36 190.61,386.17 190.66,385.96 190.71,385.75 190.76,385.52 190.81,385.27 190.86,385.01 190.91,384.73 190.96,384.44 191.01,384.12 191.06,383.79 191.11,383.43 191.16,383.05 191.21,382.65 191.26,382.23 191.31,381.79 191.36,381.32 191.41,380.83 191.46,380.32 191.51,379.79 191.56,379.25 191.61,378.70 191.66,378.15 191.71,377.59 191.76,377.05 191.81,376.52 191.86,376.02 191.91,375.56 191.96,375.15 192.01,374.80 192.06,374.53 192.11,374.33 192.16,374.21 192.20,374.19 192.21,374.19 192.26,374.26 192.31,374.41 192.36,374.65 192.41,374.97 192.46,375.35 192.51,375.79 192.56,376.27 192.61,376.79 192.66,377.33 192.71,377.88 192.76,378.44 192.81,379.00 192.86,379.55 192.91,380.09 192.96,380.62 193.01,381.12 193.06,381.61 193.11,382.07 193.16,382.51 193.21,382.92 193.26,383.32 193.31,383.69 193.36,384.04 193.41,384.37 193.46,384.69 193.51,384.98 193.56,385.25 193.61,385.51 193.66,385.76 193.71,385.99 193.76,386.20 193.81,386.40 193.86,386.59 193.91,386.77 193.96,386.94 194.01,387.10 194.06,387.25 194.11,387.39 194.16,387.53 194.21,387.66 194.26,387.78 194.31,387.89 194.36,388.00 194.41,388.10 194.46,388.19 194.51,388.29 194.56,388.37 194.61,388.45 194.66,388.53 194.71,388.61 194.76,388.68 194.81,388.75 194.86,388.81 194.91,388.87 194.96,388.93 195.01,388.99 195.06,389.04 195.11,389.09 195.16,389.14 195.21,389.19 195.26,389.23 195.31,389.28 195.36,389.32 195.41,389.36 195.46,389.40 195.51,389.43 195.56,389.47 195.61,389.50 195.66,389.53 195.71,389.56 195.76,389.59 195.81,389.62 195.86,389.65 195.91,389.68 195.95,389.70 196.00,389.73 196.05,389.75 196.10,389.78 196.15,389.80 196.20,389.82 196.25,389.84 196.30,389.86 196.35,389.88 196.40,389.90 196.45,389.92 196.50,389.94 196.55,389.95 196.60,389.97 196.65,389.99 196.70,390.00 196.75,390.02 196.80,390.03 196.85,390.05 196.90,390.06 196.95,390.07 197.00,390.09 197.05,390.10 197.10,390.11 197.15,390.13 197.20,390.14 197.25,390.15 197.30,390.16 197.35,390.17 197.40,390.18 197.45,390.19 197.50,390.20 197.55,390.21 197.60,390.22 197.65,390.23 197.70,390.24 197.75,390.25 197.80,390.26 197.85,390.26 197.90,390.27 197.95,390.28 198.00,390.29 198.05,390.30 198.10,390.30 198.15,390.31 198.20,390.32 198.25,390.33 198.30,390.33 198.35,390.34 198.40,390.34 198.45,390.35 198.50,390.36 198.55,390.36 198.60,390.37 198.65,390.38 198.70,390.38 198.75,390.39 198.80,390.39 198.85,390.40 198.90,390.40 198.95,390.41 199.00,390.41" fill="none" stroke="#dc0c0c" stroke-width="2.0" stroke-linejoin="round"/>
<polyline points="206.00,390.56 206.05,390.56 206.10,390.55 206.15,390.55 206.20,390.54 206.25,390.54 206.30,390.53 206.35,390.53 206.40,390.52 206.45,390.52 206.50,390.51 206.55,390.51 206.60,390.50 206.65,390.50 206.70,390.49 206.75,390.48 206.80,390.48 206.85,390.47 206.90,390.46 206.95,390.46 207.00,390.45 207.05,390.44 207.10,390.44 207.15,390.43 207.20,390.42 207.25,390.41 207.30,390.40 207.35,390.39 207.40,390.38 207.45,390.37 207.50,390.36 207.55,390.35 207.60,390.34 207.65,390.33 207.70,390.32 207.75,390.31 207.80,390.30 207.85,390.28 207.90,390.27 207.95,390.26 208.00,390.24 208.05,390.23 208.10,390.21 208.15,390.20 208.20,390.18 208.25,390.16 208.30,390.14 208.35,390.13 208.40,390.11 208.45,390.09 208.50,390.07 208.55,390.04 208.60,390.02 208.65,390.00 208.70,389.97 208.75,389.94 208.80,389.92 208.85,389.89 208.90,389.86 208.95,389.83 209.00,389.79 209.05,389.76 209.10,389.72 209.15,389.69 209.20,389.65 209.25,389.60 209.30,389.56 209.35,389.51 209.40,389.47 209.45,389.41 209.50,389.36 209.55,389.30 209.60,389.24 209.65,389.18 209.70,389.11 209.75,389.04 209.80,388.97 209.85,388.89 209.90,388.81 209.95,388.72 210.00,388.63 210.05,388.54 210.10,388.43 210.15,388.33 210.20,388.21 210.25,388.09 210.30,387.97 210.35,387.84 210.40,387.70 210.45,387.56 210.50,387.41 210.55,387.25 210.60,387.09 210.65,386.92 210.70,386.74 210.75,386.57 210.80,386.39 210.85,386.20 210.90,386.02 210.95,385.84 211.00,385.66 211.05,385.49 211.10,385.32 211.15,385.17 211.20,385.03 211.25,384.90 211.30,384.80 211.35,384.71 211.40,384.65 211.45,384.61 211.50,384.60 211.55,384.61 211.60,384.65 211.65,384.71 211.70,384.80 211.75,384.90 211.80,385.03 211.85,385.17 211.90,385.32 211.95,385.49 212.00,385.66 212.05,385.84 212.10,386.02 212.15,386.20 212.20,386.39 212.25,386.57 212.30,386.74 212.35,386.92 212.40,387.09 212.45,387.25 212.50,387.41 212.55,387.56 212.60,387.70 212.65,387.84 212.70,387.97 212.75,388.09 212.80,388.21 212.85,388.33 212.90,388.43 212.95,388.54 213.00,388.63 213.05,388.72 213.10,388.81 213.15,388.89 213.20,388.97 213.25,389.04 213.30,389.11 213.35,389.18 213.40,389.24 213.45,389.30 213.50,389.36 213.55,389.41 213.60,389.47 213.65,389.51 213.70,389.56 213.75,389.60 213.80,389.65 213.85,389.69 213.90,389.72 213.95,389.76 214.00,389.79 214.05,389.83 214.10,389.86 214.15,389.89 214.20,389.92 214.25,389.94 214.30,389.97 214.35,390.00 214.40,390.02 214.45,390.04 214.50,390.07 214.55,390.09 214.60,390.11 214.65,390.13 214.70,390.14 214.75,390.16 214.80,390.18 214.85,390.20 214.90,390.21 214.95,390.23 215.00,390.24 215.05,390.26 215.10,390.27 215.15,390.28 215.20,390.30" fill="none" stroke="#2b36c8" stroke-width="2.0" stroke-linejoin="round"/>
<polyline points="215.20,390.35 215.25,390.34 215.30,390.33 215.35,390.32 215.40,390.31 215.45,390.30 215.50,390.29 215.55,390.27 215.60,390.26 215.65,390.25 215.70,390.23 215.75,390.22 215.80,390.20 215.85,390.19 215.90,390.17 215.95,390.15 216.00,390.14 216.05,390.12 216.10,390.10 216.15,390.08 216.20,390.06 216.25,390.04 216.29,390.01 216.34,389.99 216.39,389.96 216.44,389.94 216.49,389.91 216.54,389.88 216.59,389.85 216.64,389.82 216.69,389.79 216.74,389.75 216.79,389.72 216.84,389.68 216.89,389.64 216.94,389.59 216.99,389.55 217.04,389.50 217.09,389.45 217.14,389.39 217.19,389.34 217.24,389.28 217.29,389.21 217.34,389.14 217.39,389.07 217.44,388.99 217.49,388.91 217.54,388.82 217.59,388.73 217.64,388.62 217.69,388.51 217.74,388.39 217.79,388.27 217.84,388.13 217.89,387.98 217.94,387.82 217.99,387.64 218.04,387.45 218.09,387.24 218.14,387.01 218.19,386.76 218.24,386.48 218.29,386.18 218.34,385.84 218.39,385.47 218.44,385.05 218.49,384.58 218.53,384.06 218.58,383.48 218.63,382.82 218.68,382.07 218.73,381.22 218.78,380.25 218.83,379.13 218.88,377.86 218.93,376.38 218.98,374.68 219.03,372.71 219.08,370.42 219.13,367.79 219.18,364.76 219.23,361.31 219.28,357.45 219.33,353.25 219.38,348.87 219.43,344.57 219.48,340.77 219.53,337.91 219.58,336.43 219.60,336.30 219.63,336.60 219.68,338.38 219.73,341.46 219.78,345.41 219.83,349.75 219.88,354.11 219.93,358.25 219.98,362.03 220.03,365.40 220.08,368.34 220.13,370.91 220.18,373.13 220.23,375.04 220.28,376.69 220.33,378.13 220.38,379.37 220.43,380.45 220.48,381.40 220.53,382.23 220.58,382.96 220.63,383.60 220.68,384.17 220.72,384.68 220.77,385.14 220.82,385.54 220.87,385.91 220.92,386.24 220.97,386.54 221.02,386.81 221.07,387.06 221.12,387.28 221.17,387.49 221.22,387.68 221.27,387.85 221.32,388.01 221.37,388.16 221.42,388.29 221.47,388.42 221.52,388.54 221.57,388.64 221.62,388.75 221.67,388.84 221.72,388.93 221.77,389.01 221.82,389.09 221.87,389.16 221.92,389.23 221.97,389.29 222.02,389.35 222.07,389.41 222.12,389.46 222.17,389.51 222.22,389.56 222.27,389.60 222.32,389.64 222.37,389.68 222.42,389.72 222.47,389.76 222.52,389.79 222.57,389.83 222.62,389.86 222.67,389.89 222.72,389.92 222.77,389.94 222.82,389.97 222.87,389.99 222.91,390.02 222.96,390.04 223.01,390.06 223.06,390.08 223.11,390.10 223.16,390.12 223.21,390.14 223.26,390.16 223.31,390.17 223.36,390.19 223.41,390.21 223.46,390.22 223.51,390.24 223.56,390.25 223.61,390.26 223.66,390.28 223.71,390.29 223.76,390.30 223.81,390.31 223.86,390.32 223.91,390.33 223.96,390.35 224.01,390.36 224.06,390.37 224.11,390.37 224.16,390.38 224.21,390.39 224.26,390.40 224.31,390.41 224.36,390.42 224.41,390.43 224.46,390.43 224.51,390.44 224.56,390.45 224.61,390.45 224.66,390.46 224.71,390.47 224.76,390.47 224.81,390.48 224.86,390.49 224.91,390.49 224.96,390.50 225.01,390.50 225.06,390.51 225.10,390.51 225.15,390.52 225.20,390.52 225.25,390.53 225.30,390.53 225.35,390.54 225.40,390.54 225.45,390.55 225.50,390.55 225.55,390.56 225.60,390.56 225.65,390.56 225.70,390.57 225.75,390.57 225.80,390.57 225.85,390.58 225.90,390.58 225.95,390.58 226.00,390.59 226.05,390.59 226.10,390.59 226.15,390.60 226.20,390.60" fill="none" stroke="#dc0c0c" stroke-width="2.0" stroke-linejoin="round"/>
<polyline points="278.40,390.63 278.45,390.63 278.50,390.62 278.55,390.62 278.60,390.62 278.65,390.62 278.70,390.61 278.75,390.61 278.80,390.61 278.85,390.61 278.90,390.60 278.95,390.60 279.00,390.60 279.05,390.60 279.10,390.59 279.15,390.59 279.20,390.59 279.25,390.58 279.30,390.58 279.35,390.58 279.40,390.57 279.45,390.57 279.50,390.57 279.55,390.56 279.60,390.56 279.65,390.56 279.70,390.55 279.75,390.55 279.80,390.54 279.85,390.54 279.89,390.54 279.94,390.53 279.99,390.53 280.04,390.52 280.09,390.52 280.14,390.51 280.19,390.51 280.24,390.50 280.29,390.50 280.34,390.49 280.39,390.49 280.44,390.48 280.49,390.48 280.54,390.47 280.59,390.46 280.64,390.46 280.69,390.45 280.74,390.45 280.79,390.44 280.84,390.43 280.89,390.42 280.94,390.42 280.99,390.41 281.04,390.40 281.09,390.39 281.14,390.39 281.19,390.38 281.24,390.37 281.29,390.36 281.34,390.35 281.39,390.34 281.44,390.33 281.49,390.32 281.54,390.31 281.59,390.30 281.64,390.29 281.69,390.28 281.74,390.27 281.79,390.25 281.84,390.24 281.89,390.23 281.94,390.21 281.99,390.20 282.04,390.18 282.09,390.17 282.14,390.15 282.19,390.14 282.24,390.12 282.29,390.10 282.34,390.08 282.39,390.07 282.44,390.05 282.49,390.03 282.54,390.00 282.59,389.98 282.64,389.96 282.69,389.94 282.73,389.91 282.78,389.88 282.83,389.86 282.88,389.83 282.93,389.80 282.98,389.77 283.03,389.74 283.08,389.70 283.13,389.67 283.18,389.63 283.23,389.59 283.28,389.55 283.33,389.51 283.38,389.46 283.43,389.42 283.48,389.37 283.53,389.32 283.58,389.26 283.63,389.21 283.68,389.14 283.73,389.08 283.78,389.01 283.83,388.94 283.88,388.87 283.93,388.79 283.98,388.71 284.03,388.62 284.08,388.53 284.13,388.43 284.18,388.32 284.23,388.21 284.28,388.10 284.33,387.97 284.38,387.84 284.43,387.70 284.48,387.55 284.53,387.40 284.58,387.23 284.63,387.06 284.68,386.87 284.73,386.67 284.78,386.46 284.83,386.24 284.88,386.01 284.93,385.76 284.98,385.51 285.03,385.24 285.08,384.96 285.13,384.67 285.18,384.37 285.23,384.06 285.28,383.75 285.33,383.43 285.38,383.11 285.43,382.80 285.48,382.50 285.53,382.21 285.58,381.94 285.62,381.69 285.67,381.47 285.72,381.29 285.77,381.15 285.82,381.06 285.87,381.01 285.90,381.00 285.92,381.01 285.97,381.05 286.02,381.15 286.07,381.29 286.12,381.47 286.17,381.68 286.22,381.92 286.27,382.20 286.32,382.48 286.37,382.79 286.42,383.10 286.47,383.42 286.52,383.73 286.57,384.05 286.62,384.36 286.67,384.66 286.72,384.95 286.77,385.23 286.82,385.50 286.87,385.75 286.92,386.00 286.97,386.23 287.02,386.45 287.07,386.66 287.12,386.86 287.17,387.05 287.22,387.22 287.27,387.39 287.32,387.55 287.37,387.70 287.42,387.84 287.47,387.97 287.52,388.09 287.57,388.21 287.62,388.32 287.67,388.42 287.72,388.52 287.77,388.62 287.82,388.70 287.87,388.79 287.92,388.87 287.97,388.94 288.02,389.01 288.07,389.08 288.12,389.14 288.17,389.20 288.22,389.26 288.27,389.31 288.32,389.37 288.37,389.42 288.42,389.46 288.47,389.51 288.51,389.55 288.56,389.59 288.61,389.63 288.66,389.67 288.71,389.70 288.76,389.74 288.81,389.77 288.86,389.80 288.91,389.83 288.96,389.86 289.01,389.88 289.06,389.91 289.11,389.93 289.16,389.96 289.21,389.98 289.26,390.00 289.31,390.02 289.36,390.05 289.41,390.06 289.46,390.08 289.51,390.10 289.56,390.12 289.61,390.14 289.66,390.15 289.71,390.17 289.76,390.18 289.81,390.20 289.86,390.21 289.91,390.23 289.96,390.24 290.01,390.25 290.06,390.26 290.11,390.28 290.16,390.29 290.21,390.30 290.26,390.31 290.31,390.32 290.36,390.33 290.41,390.34 290.46,390.35 290.51,390.36 290.56,390.37 290.61,390.38 290.66,390.39 290.71,390.39 290.76,390.40 290.81,390.41 290.86,390.42 290.91,390.42 290.96,390.43 291.01,390.44 291.06,390.44 291.11,390.45 291.16,390.46 291.21,390.46 291.26,390.47 291.31,390.48 291.36,390.48 291.40,390.49 291.45,390.49 291.50,390.50 291.55,390.50 291.60,390.51 291.65,390.51 291.70,390.52 291.75,390.52 291.80,390.53 291.85,390.53 291.90,390.54 291.95,390.54 292.00,390.54 292.05,390.55 292.10,390.55 292.15,390.56 292.20,390.56 292.25,390.56 292.30,390.57 292.35,390.57 292.40,390.57 292.45,390.58 292.50,390.58 292.55,390.58 292.60,390.59 292.65,390.59 292.70,390.59 292.75,390.60 292.80,390.60" fill="none" stroke="#dc0c0c" stroke-width="2.0" stroke-linejoin="round"/>
<polyline points="309.00,390.40 309.05,390.40 309.10,390.39 309.15,390.39 309.20,390.38 309.25,390.37 309.30,390.37 309.35,390.36 309.40,390.35 309.45,390.35 309.50,390.34 309.55,390.33 309.60,390.32 309.65,390.32 309.70,390.31 309.75,390.30 309.80,390.29 309.85,390.28 309.90,390.27 309.95,390.27 310.00,390.26 310.05,390.25 310.10,390.24 310.15,390.23 310.20,390.22 310.25,390.21 310.30,390.19 310.35,390.18 310.40,390.17 310.45,390.16 310.50,390.15 310.55,390.14 310.60,390.12 310.65,390.11 310.70,390.10 310.75,390.08 310.80,390.07 310.85,390.05 310.90,390.04 310.95,390.02 311.00,390.01 311.05,389.99 311.10,389.97 311.15,389.95 311.20,389.94 311.25,389.92 311.30,389.90 311.35,389.88 311.40,389.86 311.45,389.83 311.50,389.81 311.55,389.79 311.60,389.76 311.65,389.74 311.70,389.71 311.75,389.69 311.80,389.66 311.85,389.63 311.90,389.60 311.95,389.57 312.00,389.54 312.05,389.51 312.10,389.47 312.15,389.44 312.20,389.40 312.25,389.36 312.30,389.32 312.35,389.28 312.40,389.24 312.45,389.19 312.50,389.15 312.55,389.10 312.60,389.05 312.65,388.99 312.70,388.94 312.75,388.88 312.80,388.82 312.85,388.76 312.90,388.69 312.95,388.63 313.00,388.56 313.05,388.48 313.10,388.40 313.15,388.32 313.20,388.24 313.25,388.15 313.30,388.06 313.35,387.96 313.40,387.86 313.45,387.75 313.50,387.64 313.55,387.52 313.60,387.40 313.65,387.27 313.70,387.14 313.75,387.00 313.80,386.86 313.85,386.71 313.90,386.55 313.95,386.38 314.00,386.21 314.05,386.03 314.10,385.85 314.15,385.66 314.20,385.46 314.25,385.26 314.30,385.05 314.35,384.84 314.40,384.62 314.45,384.39 314.50,384.17 314.55,383.94 314.60,383.72 314.65,383.49 314.70,383.27 314.75,383.05 314.80,382.85 314.85,382.65 314.90,382.46 314.95,382.29 315.00,382.13 315.05,382.00 315.10,381.88 315.15,381.79 315.20,381.72 315.25,381.68 315.30,381.66 315.35,381.67 315.40,381.71 315.45,381.77 315.50,381.86 315.55,381.97 315.60,382.10 315.65,382.25 315.70,382.42 315.75,382.60 315.80,382.79 315.85,383.00 315.90,383.21 315.95,383.42 316.00,383.64 316.05,383.86 316.10,384.08 316.15,384.30 316.20,384.52 316.25,384.73 316.30,384.94 316.35,385.14 316.40,385.34 316.45,385.53 316.50,385.72 316.55,385.89 316.60,386.06 316.65,386.23 316.70,386.38 316.75,386.53 316.80,386.68 316.85,386.82 316.90,386.95 316.95,387.07 317.00,387.19 317.05,387.30 317.10,387.41 317.15,387.51 317.20,387.61 317.25,387.70 317.30,387.79 317.35,387.87 317.40,387.95 317.45,388.02 317.50,388.09 317.55,388.15 317.60,388.22 317.65,388.27 317.70,388.33 317.75,388.38 317.80,388.43 317.85,388.47 317.90,388.51 317.95,388.55 318.00,388.59 318.05,388.62 318.10,388.65 318.15,388.68 318.20,388.70 318.25,388.72 318.30,388.74 318.35,388.76 318.40,388.78 318.45,388.79 318.50,388.80 318.55,388.81 318.60,388.81 318.65,388.81 318.70,388.81 318.75,388.81 318.80,388.81 318.85,388.80 318.90,388.80 318.95,388.79 319.00,388.77 319.05,388.76 319.10,388.74 319.15,388.73 319.20,388.71 319.25,388.69 319.30,388.67 319.35,388.64 319.40,388.62 319.45,388.60 319.50,388.57 319.55,388.55 319.60,388.53 319.65,388.50 319.70,388.48 319.75,388.46 319.80,388.44 319.85,388.43 319.90,388.41 319.95,388.40 320.00,388.40 320.05,388.39 320.10,388.39 320.15,388.40 320.20,388.41 320.25,388.42 320.30,388.44 320.35,388.46 320.40,388.49 320.45,388.52 320.50,388.55 320.55,388.59 320.60,388.63 320.65,388.67 320.70,388.71 320.75,388.76 320.80,388.80 320.85,388.85 320.90,388.90 320.95,388.95 321.00,389.00 321.05,389.05 321.10,389.10 321.15,389.14 321.20,389.19 321.25,389.24 321.30,389.28 321.35,389.33 321.40,389.37 321.45,389.41 321.50,389.45 321.55,389.49 321.60,389.53 321.65,389.57 321.70,389.61 321.75,389.64 321.80,389.67 321.85,389.71 321.90,389.74 321.95,389.77 322.00,389.80 322.05,389.82 322.10,389.85 322.15,389.87 322.20,389.90 322.25,389.92 322.30,389.95 322.35,389.97 322.40,389.99 322.45,390.01 322.50,390.03 322.55,390.05 322.60,390.07 322.65,390.08 322.70,390.10 322.75,390.12 322.80,390.13 322.85,390.15 322.90,390.16 322.95,390.18 323.00,390.19 323.05,390.20 323.10,390.22 323.15,390.23 323.20,390.24 323.25,390.25 323.30,390.26 323.35,390.27 323.40,390.28 323.45,390.29 323.50,390.30 323.55,390.31 323.60,390.32 323.65,390.33 323.70,390.34 323.75,390.35 323.80,390.36 323.85,390.37 323.90,390.37 323.95,390.38 324.00,390.39 324.05,390.40 324.10,390.40 324.15,390.41 324.20,390.42" fill="none" stroke="#2b36c8" stroke-width="2.0" stroke-linejoin="round"/>
<polyline points="378.50,390.66 378.55,390.66 378.60,390.66 378.65,390.65 378.70,390.65 378.75,390.64 378.80,390.64 378.85,390.63 378.90,390.63 378.95,390.62 379.00,390.62 379.05,390.61 379.10,390.60 379.15,390.60 379.20,390.59 379.25,390.58 379.29,390.57 379.34,390.57 379.39,390.56 379.44,390.55 379.49,390.54 379.54,390.53 379.59,390.52 379.64,390.50 379.69,390.49 379.74,390.48 379.79,390.46 379.84,390.45 379.89,390.43 379.94,390.41 379.99,390.39 380.04,390.37 380.09,390.35 380.14,390.33 380.19,390.30 380.24,390.27 380.29,390.24 380.34,390.21 380.39,390.17 380.44,390.13 380.49,390.09 380.54,390.04 380.59,389.99 380.64,389.93 380.69,389.87 380.74,389.80 380.78,389.72 380.83,389.63 380.88,389.52 380.93,389.41 380.98,389.28 381.03,389.13 381.08,388.95 381.13,388.75 381.18,388.52 381.23,388.24 381.28,387.92 381.33,387.53 381.38,387.06 381.43,386.49 381.48,385.79 381.53,384.92 381.58,383.83 381.63,382.46 381.68,380.73 381.73,378.55 381.78,375.87 381.83,372.69 381.88,369.27 381.93,366.19 381.98,364.33 382.00,364.10 382.03,364.40 382.08,366.37 382.13,369.49 382.18,372.91 382.23,376.06 382.27,378.71 382.32,380.86 382.37,382.56 382.42,383.91 382.47,384.98 382.52,385.84 382.57,386.53 382.62,387.09 382.67,387.56 382.72,387.94 382.77,388.26 382.82,388.54 382.87,388.77 382.92,388.97 382.97,389.14 383.02,389.29 383.07,389.42 383.12,389.53 383.17,389.63 383.22,389.72 383.27,389.80 383.32,389.87 383.37,389.94 383.42,389.99 383.47,390.05 383.52,390.09 383.57,390.14 383.62,390.18 383.67,390.21 383.72,390.24 383.76,390.27 383.81,390.30 383.86,390.33 383.91,390.35 383.96,390.37 384.01,390.39 384.06,390.41 384.11,390.43 384.16,390.45 384.21,390.46 384.26,390.48 384.31,390.49 384.36,390.50 384.41,390.52 384.46,390.53 384.51,390.54 384.56,390.55 384.61,390.56 384.66,390.57 384.71,390.57 384.76,390.58 384.81,390.59 384.86,390.60 384.91,390.60 384.96,390.61 385.01,390.62 385.06,390.62 385.11,390.63 385.16,390.63 385.21,390.64 385.25,390.64 385.30,390.65 385.35,390.65 385.40,390.66 385.45,390.66 385.50,390.66 385.55,390.67 385.60,390.67 385.65,390.68 385.70,390.68 385.75,390.68 385.80,390.69 385.85,390.69 385.90,390.69 385.95,390.69 386.00,390.70" fill="none" stroke="#2b36c8" stroke-width="2.0" stroke-linejoin="round"/>
<rect x="62.20" y="322.70" width="330.20" height="72.30" fill="none" stroke="#000" stroke-width="2.1"/>
<text x="68.94" y="342.90" font-size="16.55" letter-spacing="0.077" fill="#000" stroke="#000" >Normalized Areas</text>
<polygon points="120.85,357.00 125.80,365.30 115.90,365.30" fill="none" stroke="#000" stroke-width="2" stroke-linejoin="miter"/>
<circle cx="157.45" cy="361.40" r="3.75" fill="none" stroke="#000" stroke-width="2.1"/>
<circle cx="171.25" cy="361.40" r="3.75" fill="none" stroke="#000" stroke-width="2.1"/>
<circle cx="180.40" cy="361.40" r="3.75" fill="none" stroke="#000" stroke-width="2.1"/>
<circle cx="189.80" cy="361.40" r="3.95" fill="none" stroke="#000" stroke-width="2.1"/>
<polygon points="209.55,357.00 214.40,365.30 204.70,365.30" fill="none" stroke="#000" stroke-width="2" stroke-linejoin="miter"/>
<circle cx="219.50" cy="330.10" r="4.25" fill="none" stroke="#000" stroke-width="2.1"/>
<circle cx="284.55" cy="362.00" r="3.70" fill="none" stroke="#000" stroke-width="2.1"/>
<polygon points="314.30,356.80 319.30,365.30 309.30,365.30" fill="none" stroke="#000" stroke-width="2" stroke-linejoin="miter"/>
<polygon points="382.25,348.50 387.30,357.40 377.20,357.40" fill="none" stroke="#000" stroke-width="2" stroke-linejoin="miter"/>
<text transform="translate(55.69,415.60) scale(1.0719,1)" font-size="18.60" letter-spacing="0.000" fill="#000" stroke="#000" >6</text>
<text transform="translate(115.02,415.60) scale(1.0432,1)" font-size="18.60" letter-spacing="0.000" fill="#000" stroke="#000" >5</text>
<text transform="translate(174.98,415.60) scale(0.9816,1)" font-size="18.60" letter-spacing="0.000" fill="#000" stroke="#000" >4</text>
<text transform="translate(234.72,415.60) scale(1.0800,1)" font-size="18.60" letter-spacing="0.000" fill="#000" stroke="#000" >3</text>
<text transform="translate(294.21,415.60) scale(1.0800,1)" font-size="18.60" letter-spacing="0.000" fill="#000" stroke="#000" >2</text>
<text transform="translate(355.52,415.60) scale(1.0800,1)" font-size="18.60" letter-spacing="0.000" fill="#000" stroke="#000" > </text>
<path transform="translate(355.52,415.60) scale(0.00981,-0.00908)" d="M515 0L515 1237L197 1010L197 1180L530 1409L696 1409L696 0Z" fill="#000" stroke="#000" stroke-width="27.5"/>
<text transform="translate(370.44,415.60) scale(1.0800,1)" font-size="15.20" letter-spacing="0.000" fill="#000" stroke="#000" >ppm</text>
<circle cx="26.00" cy="321.90" r="14.00" fill="none" stroke="#000" stroke-width="2.0"/>
<text transform="translate(20.47,327.60) scale(0.9605,1)" font-size="16.80" letter-spacing="0.000" fill="#000" stroke="#000" >A</text>
<circle cx="26.20" cy="432.40" r="14.00" fill="none" stroke="#000" stroke-width="2.0"/>
<text transform="translate(20.11,437.90) scale(1.0066,1)" font-size="16.80" letter-spacing="0.000" fill="#000" stroke="#000" >B</text>
<circle cx="25.20" cy="556.10" r="14.00" fill="none" stroke="#000" stroke-width="2.0"/>
<text transform="translate(19.28,561.90) scale(0.9587,1)" font-size="16.80" letter-spacing="0.000" fill="#000" stroke="#000" >C</text>
<circle cx="26.40" cy="700.00" r="14.00" fill="none" stroke="#000" stroke-width="2.0"/>
<text transform="translate(19.94,705.70) scale(0.9849,1)" font-size="16.80" letter-spacing="0.000" fill="#000" stroke="#000" >D</text>
<rect x="62.00" y="446.70" width="87.30" height="75.50" fill="none" stroke="#000" stroke-width="2.0"/>
<line x1="62.00" y1="457.50" x2="64.60" y2="457.50" stroke="#000" stroke-width="1.6" stroke-linecap="butt"/>
<line x1="62.00" y1="473.00" x2="64.60" y2="473.00" stroke="#000" stroke-width="1.6" stroke-linecap="butt"/>
<line x1="62.00" y1="497.80" x2="64.60" y2="497.80" stroke="#000" stroke-width="1.6" stroke-linecap="butt"/>
<line x1="75.20" y1="522.20" x2="75.20" y2="519.40" stroke="#000" stroke-width="1.6" stroke-linecap="butt"/>
<line x1="88.80" y1="522.20" x2="88.80" y2="519.40" stroke="#000" stroke-width="1.6" stroke-linecap="butt"/>
<line x1="102.30" y1="522.20" x2="102.30" y2="519.40" stroke="#000" stroke-width="1.6" stroke-linecap="butt"/>
<line x1="115.50" y1="522.20" x2="115.50" y2="519.40" stroke="#000" stroke-width="1.6" stroke-linecap="butt"/>
<line x1="128.80" y1="522.20" x2="128.80" y2="519.40" stroke="#000" stroke-width="1.6" stroke-linecap="butt"/>
<line x1="142.20" y1="522.20" x2="142.20" y2="519.40" stroke="#000" stroke-width="1.6" stroke-linecap="butt"/>
<line x1="72.20" y1="484.20" x2="141.00" y2="484.20" stroke="#000" stroke-width="2.0" stroke-linecap="butt"/>
<circle cx="75.10" cy="478.00" r="2.70" fill="none" stroke="#dc1420" stroke-width="1.95"/>
<circle cx="88.80" cy="485.40" r="2.70" fill="none" stroke="#dc1420" stroke-width="1.95"/>
<circle cx="102.50" cy="483.60" r="2.70" fill="none" stroke="#dc1420" stroke-width="1.95"/>
<circle cx="115.80" cy="483.80" r="2.70" fill="none" stroke="#dc1420" stroke-width="1.95"/>
<circle cx="129.00" cy="482.90" r="2.70" fill="none" stroke="#dc1420" stroke-width="1.95"/>
<circle cx="142.50" cy="481.20" r="2.70" fill="none" stroke="#dc1420" stroke-width="1.95"/>
<text x="111.15" y="463.90" font-size="16.40" letter-spacing="0.175" fill="#000" stroke="#000" >PCs</text>
<text transform="translate(70.01,539.00) scale(1.0800,1)" font-size="17.30" letter-spacing="0.000" fill="#000" stroke="#000" >d</text>
<text transform="translate(83.92,539.00) scale(1.0800,1)" font-size="17.30" letter-spacing="0.000" fill="#000" stroke="#000" >e</text>
<text transform="translate(97.16,539.00) scale(1.0800,1)" font-size="17.30" letter-spacing="0.000" fill="#000" stroke="#000" >g</text>
<text transform="translate(111.16,539.00) scale(1.0800,1)" font-size="17.30" letter-spacing="0.000" fill="#000" stroke="#000" >h</text>
<text x="126.93" y="539.00" font-size="17.30" letter-spacing="0.000" fill="#000" stroke="#000" >i</text>
<text x="140.02" y="539.00" font-size="17.30" letter-spacing="0.000" fill="#000" stroke="#000" >j</text>
<g transform="translate(52.4,514.9) rotate(-90)">
<text x="0" y="0" stroke="#000" font-size="17" letter-spacing="-0.12">Area/H</text>
<path transform="translate(52.49,-7.10) scale(0.00562,-0.00562)" d="M515 0L515 1237L197 1010L197 1180L530 1409L696 1409L696 0Z" fill="#000" stroke="#000" stroke-width="44.5"/>
</g>
<line x1="157.30" y1="485.10" x2="189.60" y2="485.10" stroke="#000" stroke-width="1.2" stroke-linecap="butt"/>
<polygon points="194.30,485.10 189.10,483.20 189.10,487.00" fill="#000" stroke="#000" stroke-width="0.5" stroke-linejoin="round"/>
<polyline points="210.90,459.30 201.60,484.60 210.90,509.80" fill="none" stroke="#000" stroke-width="1.2" stroke-linejoin="miter"/>
<polyline points="261.40,459.00 270.60,484.40 261.40,510.20" fill="none" stroke="#000" stroke-width="1.2" stroke-linejoin="miter"/>
<line x1="206.30" y1="485.50" x2="263.10" y2="485.50" stroke="#555" stroke-width="1.5" stroke-linecap="butt"/>
<text transform="translate(221.67,472.10) scale(0.9514,1)" font-size="18.71" letter-spacing="0.000" fill="#000" stroke="#000" >A</text>
<text transform="translate(234.47,479.60) scale(1.0532,1)" font-size="13.09" letter-spacing="0.000" fill="#000" stroke="#000" >PC</text>
<text transform="translate(213.02,506.00) scale(0.9794,1)" font-size="18.86" letter-spacing="0.000" fill="#000" stroke="#000" >#</text>
<text x="222.97" y="498.60" font-size="12.30" letter-spacing="0.000" fill="#000" stroke="#000" > </text>
<path transform="translate(222.97,498.60) scale(0.00601,-0.00601)" d="M515 0L515 1237L197 1010L197 1180L530 1409L696 1409L696 0Z" fill="#000" stroke="#000" stroke-width="41.6"/>
<text transform="translate(228.56,506.00) scale(1.0800,1)" font-size="18.56" letter-spacing="0.000" fill="#000" stroke="#000" >H</text>
<text transform="translate(241.64,513.70) scale(1.0833,1)" font-size="13.09" letter-spacing="0.000" fill="#000" stroke="#000" >PC</text>
<text transform="translate(275.36,491.00) scale(1.0800,1)" font-size="19.00" letter-spacing="0.000" fill="#000" stroke="#000" >±</text>
<text x="289.73" y="492.60" font-size="19.14" letter-spacing="-0.799" fill="#000" stroke="#000" >SD</text>
<text transform="translate(313.24,499.90) scale(1.0541,1)" font-size="13.38" letter-spacing="0.000" fill="#000" stroke="#000" >PC</text>
<line x1="234.00" y1="517.10" x2="234.00" y2="551.10" stroke="#000" stroke-width="1.2" stroke-linecap="butt"/>
<polygon points="234.00,555.80 231.60,550.60 236.40,550.60" fill="#000" stroke="#000" stroke-width="0.5" stroke-linejoin="round"/>
<rect x="62.10" y="572.10" width="86.90" height="75.50" fill="none" stroke="#000" stroke-width="2.0"/>
<line x1="62.00" y1="597.20" x2="64.60" y2="597.20" stroke="#000" stroke-width="1.6" stroke-linecap="butt"/>
<line x1="62.00" y1="622.80" x2="64.60" y2="622.80" stroke="#000" stroke-width="1.6" stroke-linecap="butt"/>
<line x1="74.80" y1="647.60" x2="74.80" y2="644.80" stroke="#000" stroke-width="1.6" stroke-linecap="butt"/>
<line x1="88.30" y1="647.60" x2="88.30" y2="644.80" stroke="#000" stroke-width="1.6" stroke-linecap="butt"/>
<line x1="101.90" y1="647.60" x2="101.90" y2="644.80" stroke="#000" stroke-width="1.6" stroke-linecap="butt"/>
<line x1="115.20" y1="647.60" x2="115.20" y2="644.80" stroke="#000" stroke-width="1.6" stroke-linecap="butt"/>
<line x1="128.90" y1="647.60" x2="128.90" y2="644.80" stroke="#000" stroke-width="1.6" stroke-linecap="butt"/>
<line x1="142.30" y1="647.60" x2="142.30" y2="644.80" stroke="#000" stroke-width="1.6" stroke-linecap="butt"/>
<text x="99.39" y="589.40" font-size="15.54" letter-spacing="0.390" fill="#000" stroke="#000" >Sterol</text>
<polygon points="75.10,603.44 77.46,608.15 72.73,608.15" fill="none" stroke="#3430e0" stroke-width="1.9" stroke-linejoin="miter"/>
<polygon points="88.90,630.54 91.27,635.25 86.54,635.25" fill="none" stroke="#3430e0" stroke-width="1.9" stroke-linejoin="miter"/>
<polygon points="101.70,613.64 104.06,618.35 99.34,618.35" fill="none" stroke="#3430e0" stroke-width="1.9" stroke-linejoin="miter"/>
<polygon points="115.20,619.34 117.56,624.05 112.84,624.05" fill="none" stroke="#3430e0" stroke-width="1.9" stroke-linejoin="miter"/>
<text transform="translate(69.12,665.80) scale(0.9227,1)" font-size="17.30" letter-spacing="0.000" fill="#000" stroke="#000" >a</text>
<text transform="translate(83.69,665.80) scale(1.0800,1)" font-size="17.30" letter-spacing="0.000" fill="#000" stroke="#000" >b</text>
<text transform="translate(98.61,665.80) scale(1.0800,1)" font-size="17.30" letter-spacing="0.000" fill="#000" stroke="#000" >f</text>
<text transform="translate(109.79,665.80) scale(1.0800,1)" font-size="17.30" letter-spacing="0.000" fill="#000" stroke="#000" >k</text>
<g transform="translate(52.7,637.4) rotate(-90)">
<text x="0" y="0" stroke="#000" font-size="17" letter-spacing="-0.12">Area/H</text>
<path transform="translate(52.49,-7.10) scale(0.00562,-0.00562)" d="M515 0L515 1237L197 1010L197 1180L530 1409L696 1409L696 0Z" fill="#000" stroke="#000" stroke-width="44.5"/>
</g>
<line x1="157.10" y1="617.30" x2="171.30" y2="617.30" stroke="#000" stroke-width="2.0" stroke-linecap="butt"/>
<polygon points="176.20,617.30 170.80,614.90 170.80,619.70" fill="#000" stroke="#000" stroke-width="0.5" stroke-linejoin="round"/>
<rect x="183.80" y="572.10" width="102.50" height="75.50" fill="none" stroke="#000" stroke-width="2.0"/>
<line x1="183.80" y1="597.70" x2="186.40" y2="597.70" stroke="#000" stroke-width="1.6" stroke-linecap="butt"/>
<line x1="183.80" y1="622.70" x2="186.40" y2="622.70" stroke="#000" stroke-width="1.6" stroke-linecap="butt"/>
<line x1="196.00" y1="647.60" x2="196.00" y2="644.80" stroke="#000" stroke-width="1.6" stroke-linecap="butt"/>
<line x1="209.70" y1="647.60" x2="209.70" y2="644.80" stroke="#000" stroke-width="1.6" stroke-linecap="butt"/>
<line x1="223.40" y1="647.60" x2="223.40" y2="644.80" stroke="#000" stroke-width="1.6" stroke-linecap="butt"/>
<line x1="236.80" y1="647.60" x2="236.80" y2="644.80" stroke="#000" stroke-width="1.6" stroke-linecap="butt"/>
<line x1="250.10" y1="647.60" x2="250.10" y2="644.80" stroke="#000" stroke-width="1.6" stroke-linecap="butt"/>
<line x1="263.60" y1="647.60" x2="263.60" y2="644.80" stroke="#000" stroke-width="1.6" stroke-linecap="butt"/>
<line x1="276.50" y1="647.60" x2="276.50" y2="644.80" stroke="#000" stroke-width="1.6" stroke-linecap="butt"/>
<text x="236.38" y="589.40" font-size="15.83" letter-spacing="0.506" fill="#000" stroke="#000" >Sterol</text>
<line x1="191.40" y1="622.40" x2="279.70" y2="622.40" stroke="#000" stroke-width="2.0" stroke-linecap="butt"/>
<polygon points="196.60,603.34 198.96,608.05 194.24,608.05" fill="none" stroke="#3430e0" stroke-width="1.9" stroke-linejoin="miter"/>
<polygon points="210.00,630.54 212.36,635.25 207.64,635.25" fill="none" stroke="#3430e0" stroke-width="1.9" stroke-linejoin="miter"/>
<polygon points="223.30,613.74 225.66,618.45 220.94,618.45" fill="none" stroke="#3430e0" stroke-width="1.9" stroke-linejoin="miter"/>
<polygon points="237.00,619.44 239.36,624.15 234.64,624.15" fill="none" stroke="#3430e0" stroke-width="1.9" stroke-linejoin="miter"/>
<rect x="247.45" y="620.65" width="5.90" height="5.90" fill="none" stroke="#5af814" stroke-width="1.9"/>
<rect x="261.05" y="609.05" width="5.90" height="5.90" fill="none" stroke="#5af814" stroke-width="1.9"/>
<rect x="273.65" y="623.65" width="5.90" height="5.90" fill="none" stroke="#5af814" stroke-width="1.9"/>
<text transform="translate(191.11,665.80) scale(1.0800,1)" font-size="17.30" letter-spacing="0.000" fill="#000" stroke="#000" >a</text>
<text transform="translate(205.19,665.80) scale(1.0800,1)" font-size="17.30" letter-spacing="0.000" fill="#000" stroke="#000" >b</text>
<text transform="translate(220.71,665.80) scale(1.0800,1)" font-size="17.30" letter-spacing="0.000" fill="#000" stroke="#000" >f</text>
<text transform="translate(232.29,665.80) scale(1.0800,1)" font-size="17.30" letter-spacing="0.000" fill="#000" stroke="#000" >k</text>
<text transform="translate(245.33,665.80) scale(1.0800,1)" font-size="17.30" letter-spacing="0.000" fill="#000" stroke="#000" >c</text>
<text x="261.67" y="665.80" font-size="17.30" letter-spacing="0.000" fill="#000" stroke="#000" >l</text>
<text transform="translate(270.16,665.80) scale(1.0800,1)" font-size="17.30" letter-spacing="0.000" fill="#000" stroke="#000" >m</text>
<line x1="295.40" y1="617.70" x2="308.00" y2="617.70" stroke="#000" stroke-width="2.0" stroke-linecap="butt"/>
<polygon points="312.90,617.70 307.50,615.30 307.50,620.10" fill="#000" stroke="#000" stroke-width="0.5" stroke-linejoin="round"/>
<polyline points="327.30,590.10 318.60,616.00 327.30,642.10" fill="none" stroke="#000" stroke-width="2.0" stroke-linejoin="miter"/>
<polyline points="399.80,590.10 409.00,616.00 399.80,642.10" fill="none" stroke="#000" stroke-width="2.0" stroke-linejoin="miter"/>
<line x1="323.30" y1="616.60" x2="399.80" y2="616.60" stroke="#000" stroke-width="2.0" stroke-linecap="butt"/>
<text transform="translate(338.36,604.80) scale(0.9761,1)" font-size="18.85" letter-spacing="0.000" fill="#000" stroke="#000" >A</text>
<text x="352.52" y="612.60" font-size="13.52" letter-spacing="-0.158" fill="#000" stroke="#000" >sterol</text>
<text transform="translate(330.22,637.60) scale(0.9081,1)" font-size="19.73" letter-spacing="0.000" fill="#000" stroke="#000" >#</text>
<text x="339.87" y="630.60" font-size="12.30" letter-spacing="0.000" fill="#000" stroke="#000" > </text>
<path transform="translate(339.87,630.60) scale(0.00601,-0.00601)" d="M515 0L515 1237L197 1010L197 1180L530 1409L696 1409L696 0Z" fill="#000" stroke="#000" stroke-width="41.6"/>
<text transform="translate(344.97,637.60) scale(1.0800,1)" font-size="19.42" letter-spacing="0.000" fill="#000" stroke="#000" >H</text>
<text x="359.52" y="645.20" font-size="13.52" letter-spacing="0.002" fill="#000" stroke="#000" >sterol</text>
<text transform="translate(411.46,621.90) scale(1.0800,1)" font-size="19.00" letter-spacing="0.000" fill="#000" stroke="#000" >±</text>
<text x="426.03" y="622.90" font-size="19.14" letter-spacing="-0.799" fill="#000" stroke="#000" >SD</text>
<text x="450.15" y="630.40" font-size="12.70" letter-spacing="0.451" fill="#000" stroke="#000" >sterol</text>
<text transform="translate(51.45,724.90) scale(0.9098,1)" font-size="19.89" letter-spacing="0.000" fill="#000" stroke="#000" >%</text>
<text x="72.59" y="724.50" font-size="20.00" letter-spacing="-0.600" fill="#000" stroke="#000" >Sterol</text>
<text transform="translate(123.18,724.50) scale(0.9966,1)" font-size="19.00" letter-spacing="0.000" fill="#000" stroke="#000" >=</text>
<polyline points="151.70,691.00 142.30,718.30 151.70,745.60" fill="none" stroke="#000" stroke-width="2.0" stroke-linejoin="miter"/>
<line x1="149.20" y1="718.20" x2="225.10" y2="718.20" stroke="#000" stroke-width="2.0" stroke-linecap="butt"/>
<text transform="translate(163.26,704.60) scale(1.0081,1)" font-size="18.85" letter-spacing="0.000" fill="#000" stroke="#000" >A</text>
<text x="176.72" y="712.30" font-size="13.80" letter-spacing="0.092" fill="#000" stroke="#000" >sterol</text>
<text transform="translate(155.52,738.40) scale(0.9358,1)" font-size="19.15" letter-spacing="0.000" fill="#000" stroke="#000" >#</text>
<text x="165.97" y="731.30" font-size="12.30" letter-spacing="0.000" fill="#000" stroke="#000" > </text>
<path transform="translate(165.97,731.30) scale(0.00601,-0.00601)" d="M515 0L515 1237L197 1010L197 1180L530 1409L696 1409L696 0Z" fill="#000" stroke="#000" stroke-width="41.6"/>
<text transform="translate(170.29,738.40) scale(1.0800,1)" font-size="18.85" letter-spacing="0.000" fill="#000" stroke="#000" >H</text>
<text x="184.62" y="745.80" font-size="13.52" letter-spacing="0.002" fill="#000" stroke="#000" >sterol</text>
<polyline points="224.10,692.00 233.10,718.70 224.10,745.10" fill="none" stroke="#000" stroke-width="2.0" stroke-linejoin="miter"/>
<line x1="254.00" y1="686.30" x2="233.10" y2="752.40" stroke="#000" stroke-width="2.0" stroke-linecap="butt"/>
<polyline points="269.80,686.80 260.50,686.80 260.50,749.60 269.80,749.60" fill="none" stroke="#000" stroke-width="2.0" stroke-linejoin="miter"/>
<polyline points="274.70,692.00 264.90,718.70 274.70,745.10" fill="none" stroke="#000" stroke-width="2.0" stroke-linejoin="miter"/>
<line x1="271.40" y1="718.60" x2="347.30" y2="718.60" stroke="#000" stroke-width="2.0" stroke-linecap="butt"/>
<text transform="translate(286.06,705.00) scale(0.9550,1)" font-size="19.42" letter-spacing="0.000" fill="#000" stroke="#000" >A</text>
<text x="299.25" y="712.30" font-size="12.70" letter-spacing="0.511" fill="#000" stroke="#000" >sterol</text>
<text transform="translate(278.12,738.40) scale(0.9358,1)" font-size="19.15" letter-spacing="0.000" fill="#000" stroke="#000" >#</text>
<text x="288.12" y="731.30" font-size="12.30" letter-spacing="0.000" fill="#000" stroke="#000" > </text>
<path transform="translate(288.12,731.30) scale(0.00601,-0.00601)" d="M515 0L515 1237L197 1010L197 1180L530 1409L696 1409L696 0Z" fill="#000" stroke="#000" stroke-width="41.6"/>
<text transform="translate(292.54,738.40) scale(1.0800,1)" font-size="18.85" letter-spacing="0.000" fill="#000" stroke="#000" >H</text>
<text x="306.82" y="745.80" font-size="13.52" letter-spacing="0.082" fill="#000" stroke="#000" >sterol</text>
<polyline points="346.30,691.40 355.90,718.00 346.30,744.50" fill="none" stroke="#000" stroke-width="2.0" stroke-linejoin="miter"/>
<text transform="translate(360.20,723.05) scale(0.9854,1)" font-size="18.80" letter-spacing="0.000" fill="#000" stroke="#000" >+</text>
<text transform="translate(375.65,723.70) scale(0.9764,1)" font-size="19.33" letter-spacing="0.000" fill="#000" stroke="#000" >2</text>
<polyline points="395.80,692.50 386.50,717.70 395.80,743.80" fill="none" stroke="#000" stroke-width="2.0" stroke-linejoin="miter"/>
<line x1="394.50" y1="718.30" x2="448.90" y2="718.30" stroke="#000" stroke-width="2.0" stroke-linecap="butt"/>
<text transform="translate(408.26,704.70) scale(0.9994,1)" font-size="18.56" letter-spacing="0.000" fill="#000" stroke="#000" >A</text>
<text transform="translate(421.66,712.50) scale(1.0477,1)" font-size="13.24" letter-spacing="0.000" fill="#000" stroke="#000" >PC</text>
<text transform="translate(400.42,739.00) scale(0.9637,1)" font-size="19.73" letter-spacing="0.000" fill="#000" stroke="#000" >#</text>
<text x="410.77" y="731.30" font-size="12.30" letter-spacing="0.000" fill="#000" stroke="#000" > </text>
<path transform="translate(410.77,731.30) scale(0.00601,-0.00601)" d="M515 0L515 1237L197 1010L197 1180L530 1409L696 1409L696 0Z" fill="#000" stroke="#000" stroke-width="41.6"/>
<text transform="translate(415.16,739.00) scale(1.0322,1)" font-size="19.42" letter-spacing="0.000" fill="#000" stroke="#000" >H</text>
<text transform="translate(428.79,746.30) scale(1.0889,1)" font-size="12.37" letter-spacing="0.000" fill="#000" stroke="#000" >PC</text>
<polyline points="447.50,692.50 457.60,717.70 447.50,743.80" fill="none" stroke="#000" stroke-width="2.0" stroke-linejoin="miter"/>
<polyline points="454.20,687.20 462.10,687.20 462.10,749.60 454.20,749.60" fill="none" stroke="#000" stroke-width="2.0" stroke-linejoin="miter"/>
</svg>
</body></html>
